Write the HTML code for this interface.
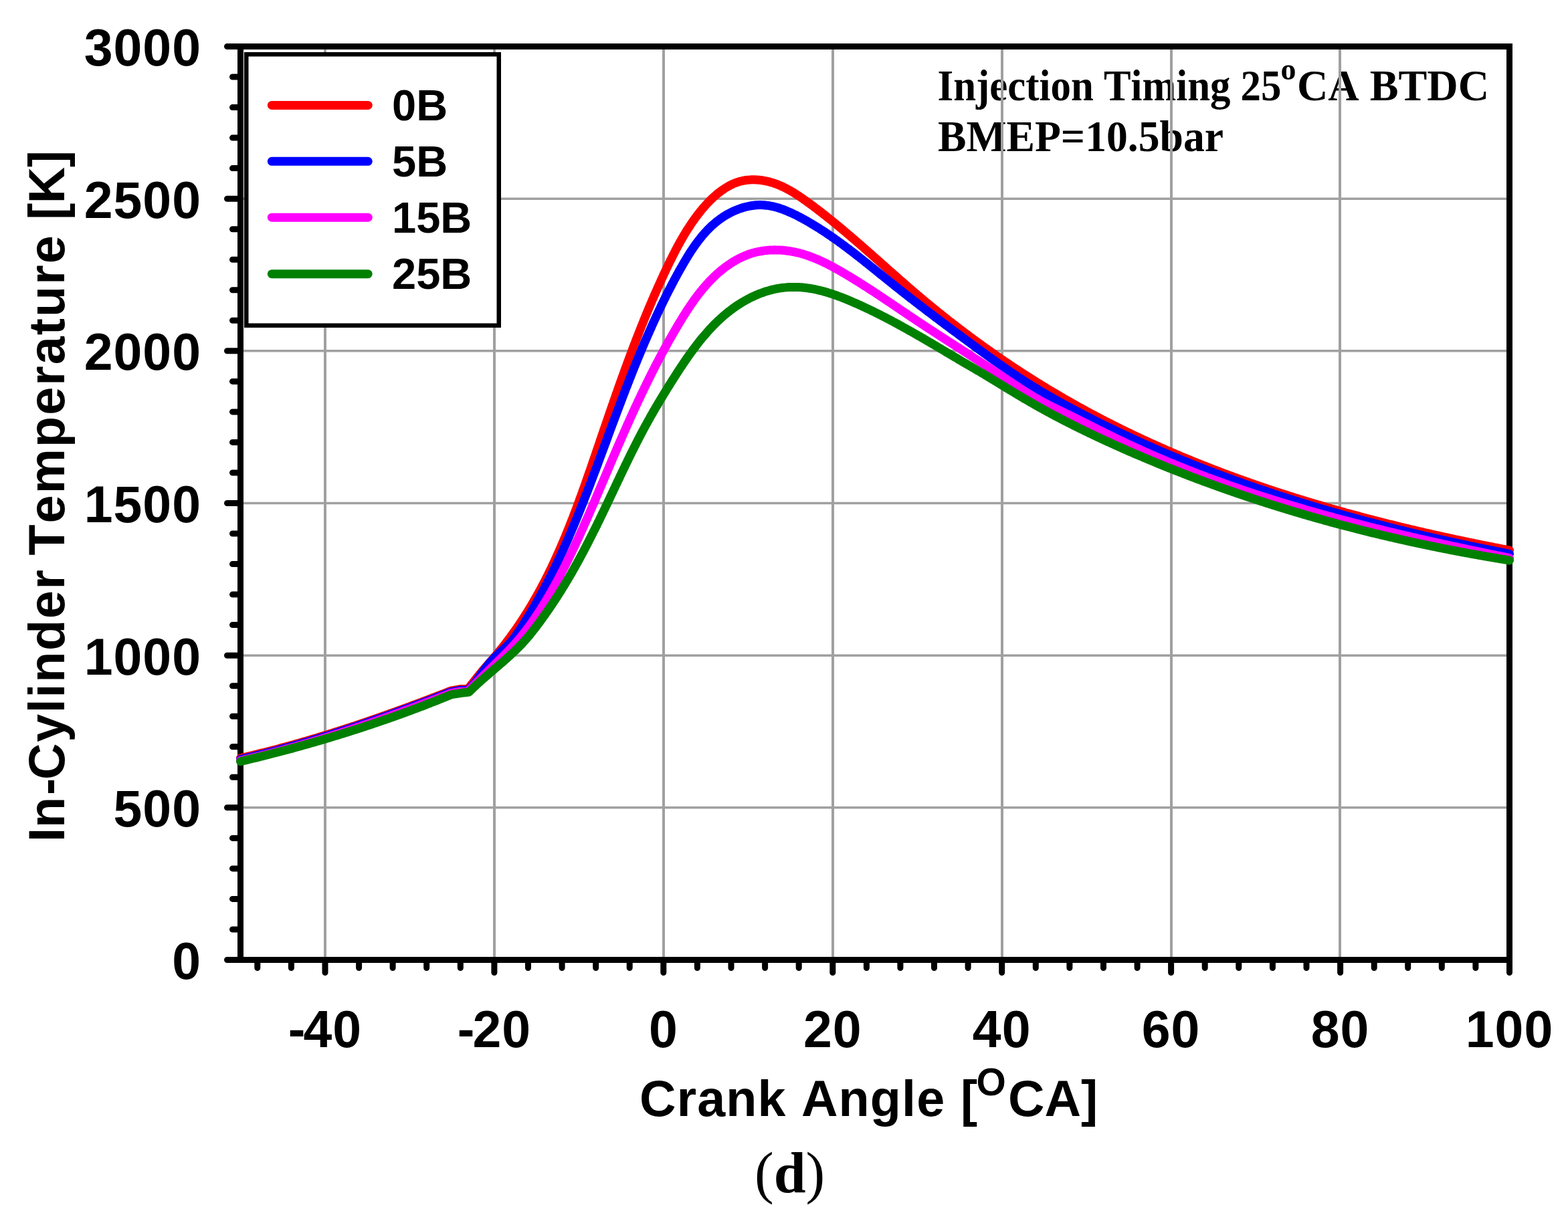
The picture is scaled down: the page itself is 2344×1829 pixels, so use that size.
<!DOCTYPE html>
<html><head><meta charset="utf-8"><title>In-Cylinder Temperature vs Crank Angle</title>
<style>
html,body{margin:0;padding:0;background:#fff;}
body{width:2344px;height:1829px;overflow:hidden;}
svg{display:block;}
text{font-kerning:none;}
.sans{font-family:"Liberation Sans",Arial,sans-serif;font-weight:bold;}
.serif{font-family:"Liberation Serif","Times New Roman",serif;font-weight:bold;}
</style></head><body>
<svg width="2344" height="1829" viewBox="0 0 2344 1829">
<rect width="2344" height="1829" fill="#fff"/>
<g class="serif" font-size="64.5" fill="#000">
<text x="1401.5" y="149.8"><tspan textLength="514" lengthAdjust="spacingAndGlyphs">Injection Timing 25</tspan><tspan x="1914.5" y="118.5" font-size="46">o</tspan><tspan x="1939" y="149.8" textLength="287" lengthAdjust="spacingAndGlyphs">CA BTDC</tspan></text>
<text x="1402" y="226.2" textLength="427" lengthAdjust="spacingAndGlyphs">BMEP=10.5bar</text>
</g>
<path d="M486 69.5 V1435.5 M739 69.5 V1435.5 M992 69.5 V1435.5 M1245 69.5 V1435.5 M1498 69.5 V1435.5 M1751 69.5 V1435.5 M2003 69.5 V1435.5" stroke="#a0a0a0" stroke-width="4" fill="none"/>
<path d="M359.5 1207.8 H2256.5 M359.5 980.2 H2256.5 M359.5 752.5 H2256.5 M359.5 524.8 H2256.5 M359.5 297.2 H2256.5" stroke="#a0a0a0" stroke-width="3.5" fill="none"/>
<rect x="368.25" y="81.25" width="377.5" height="405.5" fill="#fff" stroke="#000" stroke-width="6.5"/>
<g stroke-width="13" stroke-linecap="round" fill="none">
<path d="M406.3 157.4 H550.2" stroke="#ff0000"/>
<path d="M406.3 241.3 H550.2" stroke="#0000ff"/>
<path d="M406.3 325.2 H550.2" stroke="#ff00ff"/>
<path d="M406.3 409.7 H550.2" stroke="#008000"/>
</g>
<g class="sans" font-size="65" fill="#000">
<text x="586" y="180.3">0B</text>
<text x="586" y="264.2">5B</text>
<text x="586" y="348.1">15B</text>
<text x="586" y="432.3">25B</text>
</g>
<rect x="359.5" y="69.5" width="1897.0" height="1366.0" fill="none" stroke="#000" stroke-width="9"/>
<path d="M359.5 1435.5 H339.5 M359.5 1207.8 H339.5 M359.5 980.2 H339.5 M359.5 752.5 H339.5 M359.5 524.8 H339.5 M359.5 297.2 H339.5 M359.5 69.5 H339.5 M486.0 1435.5 V1454.5 M738.9 1435.5 V1454.5 M991.8 1435.5 V1454.5 M1244.8 1435.5 V1454.5 M1497.7 1435.5 V1454.5 M1750.6 1435.5 V1454.5 M2003.6 1435.5 V1454.5 M2256.5 1435.5 V1454.5 M359.5 69.5 H339.5 M359.5 1435.5 H339.5" stroke="#000" stroke-width="9" stroke-linecap="round" fill="none"/>
<path d="M359.5 1390.0 H347.5 M359.5 1344.4 H347.5 M359.5 1298.9 H347.5 M359.5 1253.4 H347.5 M359.5 1162.3 H347.5 M359.5 1116.8 H347.5 M359.5 1071.2 H347.5 M359.5 1025.7 H347.5 M359.5 934.6 H347.5 M359.5 889.1 H347.5 M359.5 843.6 H347.5 M359.5 798.0 H347.5 M359.5 707.0 H347.5 M359.5 661.4 H347.5 M359.5 615.9 H347.5 M359.5 570.4 H347.5 M359.5 479.3 H347.5 M359.5 433.8 H347.5 M359.5 388.2 H347.5 M359.5 342.7 H347.5 M359.5 251.6 H347.5 M359.5 206.1 H347.5 M359.5 160.6 H347.5 M359.5 115.0 H347.5 M384.8 1435.5 V1447.5 M435.4 1435.5 V1447.5 M536.6 1435.5 V1447.5 M587.1 1435.5 V1447.5 M637.7 1435.5 V1447.5 M688.3 1435.5 V1447.5 M789.5 1435.5 V1447.5 M840.1 1435.5 V1447.5 M890.7 1435.5 V1447.5 M941.2 1435.5 V1447.5 M1042.4 1435.5 V1447.5 M1093.0 1435.5 V1447.5 M1143.6 1435.5 V1447.5 M1194.2 1435.5 V1447.5 M1295.4 1435.5 V1447.5 M1345.9 1435.5 V1447.5 M1396.5 1435.5 V1447.5 M1447.1 1435.5 V1447.5 M1548.3 1435.5 V1447.5 M1598.9 1435.5 V1447.5 M1649.5 1435.5 V1447.5 M1700.1 1435.5 V1447.5 M1801.2 1435.5 V1447.5 M1851.8 1435.5 V1447.5 M1902.4 1435.5 V1447.5 M1953.0 1435.5 V1447.5 M2054.2 1435.5 V1447.5 M2104.7 1435.5 V1447.5 M2155.3 1435.5 V1447.5 M2205.9 1435.5 V1447.5" stroke="#000" stroke-width="9" stroke-linecap="round" fill="none"/>
<g stroke-width="13" stroke-linecap="round" stroke-linejoin="round" fill="none">
<path d="M359.5 1133.8 L361.4 1133.4 L363.4 1132.9 L365.3 1132.5 L367.3 1132.0 L369.2 1131.6 L371.1 1131.1 L373.1 1130.7 L375.0 1130.2 L377.0 1129.7 L378.9 1129.3 L380.8 1128.8 L382.8 1128.3 L384.7 1127.9 L386.6 1127.4 L388.6 1126.9 L390.5 1126.4 L392.4 1125.9 L394.4 1125.5 L396.3 1125.0 L398.2 1124.5 L400.2 1124.0 L402.1 1123.5 L404.0 1123.0 L405.9 1122.5 L407.9 1122.0 L409.8 1121.5 L411.7 1121.0 L413.7 1120.5 L415.6 1120.0 L417.5 1119.5 L419.4 1118.9 L421.3 1118.4 L423.3 1117.9 L425.2 1117.4 L427.1 1116.9 L429.0 1116.3 L431.0 1115.8 L432.9 1115.3 L434.8 1114.7 L436.7 1114.2 L438.6 1113.7 L440.5 1113.1 L442.5 1112.6 L444.4 1112.0 L446.3 1111.5 L448.2 1111.0 L450.1 1110.4 L452.0 1109.9 L453.9 1109.3 L455.8 1108.7 L457.8 1108.2 L459.7 1107.6 L461.6 1107.1 L463.5 1106.5 L465.4 1105.9 L467.3 1105.4 L469.2 1104.8 L471.1 1104.2 L473.0 1103.7 L474.9 1103.1 L476.8 1102.5 L478.7 1101.9 L480.6 1101.3 L482.5 1100.8 L484.4 1100.2 L486.4 1099.6 L488.3 1099.0 L490.2 1098.4 L492.1 1097.8 L494.0 1097.2 L495.9 1096.6 L497.8 1096.0 L499.6 1095.4 L501.5 1094.8 L503.4 1094.2 L505.3 1093.6 L507.2 1093.0 L509.1 1092.4 L511.0 1091.8 L512.9 1091.2 L514.8 1090.6 L516.7 1089.9 L518.6 1089.3 L520.5 1088.7 L522.4 1088.1 L524.3 1087.5 L526.2 1086.8 L528.1 1086.2 L529.9 1085.6 L531.8 1085.0 L533.7 1084.3 L535.6 1083.7 L537.5 1083.1 L539.4 1082.4 L541.3 1081.8 L543.2 1081.2 L545.0 1080.5 L546.9 1079.9 L548.8 1079.2 L550.7 1078.6 L552.6 1077.9 L554.5 1077.3 L556.3 1076.6 L558.2 1076.0 L560.1 1075.3 L562.0 1074.7 L563.9 1074.0 L565.7 1073.4 L567.6 1072.7 L569.5 1072.1 L571.4 1071.4 L573.3 1070.7 L575.1 1070.1 L577.0 1069.4 L578.9 1068.7 L580.8 1068.1 L582.6 1067.4 L584.5 1066.7 L586.4 1066.1 L588.3 1065.4 L590.1 1064.7 L592.0 1064.0 L593.9 1063.4 L595.8 1062.7 L597.6 1062.0 L599.5 1061.3 L601.4 1060.6 L603.2 1060.0 L605.1 1059.3 L607.0 1058.6 L608.9 1057.9 L610.7 1057.2 L612.6 1056.5 L614.5 1055.8 L616.3 1055.1 L618.2 1054.4 L620.1 1053.8 L621.9 1053.1 L623.8 1052.4 L625.7 1051.7 L627.5 1051.0 L629.4 1050.3 L631.2 1049.6 L633.1 1048.9 L635.0 1048.2 L636.8 1047.5 L638.7 1046.8 L640.6 1046.1 L642.4 1045.3 L644.3 1044.6 L646.1 1043.9 L648.0 1043.2 L649.9 1042.5 L651.7 1041.8 L653.6 1041.1 L655.4 1040.4 L657.3 1039.7 L659.2 1038.9 L661.0 1038.2 L662.9 1037.5 L664.7 1036.8 L666.6 1036.1 L668.4 1035.4 L670.3 1034.6 L672.1 1033.9 L674.0 1033.2 L688.0 1030.6 L699.5 1030.4 L700.8 1028.9 L702.0 1027.3 L703.3 1025.8 L704.5 1024.2 L705.8 1022.6 L707.0 1021.1 L708.2 1019.5 L709.5 1017.9 L710.7 1016.4 L711.9 1014.8 L713.1 1013.3 L714.4 1011.7 L715.6 1010.2 L716.9 1008.6 L718.1 1007.1 L719.4 1005.5 L720.6 1004.0 L721.9 1002.5 L723.2 1001.0 L724.5 999.5 L725.8 998.0 L727.1 996.5 L728.4 995.0 L729.7 993.5 L731.0 992.0 L732.3 990.5 L733.6 989.0 L734.9 987.5 L736.2 986.0 L737.5 984.5 L738.8 983.0 L740.1 981.5 L741.4 980.0 L742.7 978.5 L744.0 976.9 L745.2 975.4 L746.5 973.8 L747.8 972.3 L749.0 970.7 L750.3 969.2 L751.5 967.6 L752.8 966.0 L754.0 964.5 L755.3 962.9 L756.5 961.3 L757.7 959.7 L758.9 958.1 L760.1 956.5 L761.3 954.9 L762.5 953.3 L763.7 951.7 L764.9 950.0 L766.1 948.4 L767.2 946.8 L768.4 945.2 L769.6 943.5 L770.7 941.9 L771.9 940.2 L773.0 938.6 L774.1 936.9 L775.3 935.3 L776.4 933.6 L777.5 932.0 L778.6 930.3 L779.7 928.6 L780.8 927.0 L781.9 925.3 L783.0 923.6 L784.1 921.9 L785.1 920.3 L786.2 918.6 L787.3 916.9 L788.3 915.2 L789.4 913.5 L790.4 911.8 L791.4 910.1 L792.5 908.4 L793.5 906.7 L794.5 905.0 L795.5 903.3 L796.5 901.5 L797.5 899.8 L798.5 898.1 L799.5 896.4 L800.5 894.6 L801.5 892.9 L802.5 891.2 L803.4 889.4 L804.4 887.7 L805.4 886.0 L806.3 884.2 L807.3 882.5 L808.2 880.7 L809.2 879.0 L810.1 877.2 L811.0 875.4 L811.9 873.7 L812.9 871.9 L813.8 870.2 L814.7 868.4 L815.6 866.6 L816.5 864.8 L817.4 863.1 L818.3 861.3 L819.2 859.5 L820.1 857.7 L820.9 855.9 L821.8 854.2 L822.7 852.4 L823.6 850.6 L824.4 848.8 L825.3 847.0 L826.1 845.2 L827.0 843.4 L827.8 841.6 L828.7 839.8 L829.5 838.0 L830.3 836.2 L831.2 834.3 L832.0 832.5 L832.8 830.7 L833.6 828.9 L834.4 827.1 L835.2 825.3 L836.0 823.4 L836.9 821.6 L837.7 819.8 L838.4 818.0 L839.2 816.1 L840.0 814.3 L840.8 812.5 L841.6 810.6 L842.4 808.8 L843.1 806.9 L843.9 805.1 L844.7 803.3 L845.5 801.4 L846.2 799.6 L847.0 797.7 L847.7 795.9 L848.5 794.0 L849.2 792.2 L850.0 790.3 L850.7 788.5 L851.5 786.6 L852.2 784.7 L852.9 782.9 L853.7 781.0 L854.4 779.2 L855.1 777.3 L855.9 775.4 L856.6 773.6 L857.3 771.7 L858.0 769.8 L858.7 768.0 L859.4 766.1 L860.2 764.2 L860.9 762.3 L861.6 760.5 L862.3 758.6 L863.0 756.7 L863.7 754.8 L864.4 753.0 L865.1 751.1 L865.8 749.2 L866.4 747.3 L867.1 745.4 L867.8 743.6 L868.5 741.7 L869.2 739.8 L869.9 737.9 L870.6 736.0 L871.2 734.1 L871.9 732.2 L872.6 730.4 L873.3 728.5 L873.9 726.6 L874.6 724.7 L875.3 722.8 L875.9 720.9 L876.6 719.0 L877.3 717.1 L877.9 715.2 L878.6 713.3 L879.3 711.4 L879.9 709.5 L880.6 707.7 L881.2 705.8 L881.9 703.9 L882.6 702.0 L883.2 700.1 L883.9 698.2 L884.5 696.3 L885.2 694.4 L885.8 692.5 L886.5 690.6 L887.1 688.7 L887.8 686.8 L888.4 684.9 L889.1 683.0 L889.7 681.1 L890.4 679.2 L891.0 677.3 L891.7 675.4 L892.3 673.5 L893.0 671.6 L893.6 669.7 L894.3 667.8 L894.9 665.9 L895.6 664.0 L896.2 662.1 L896.9 660.2 L897.5 658.3 L898.1 656.4 L898.8 654.5 L899.4 652.6 L900.1 650.7 L900.7 648.8 L901.4 646.9 L902.0 645.0 L902.7 643.1 L903.3 641.2 L904.0 639.3 L904.6 637.4 L905.3 635.5 L905.9 633.6 L906.6 631.7 L907.2 629.9 L907.9 628.0 L908.5 626.1 L909.2 624.2 L909.8 622.3 L910.5 620.4 L911.1 618.5 L911.8 616.6 L912.4 614.7 L913.1 612.8 L913.7 610.9 L914.4 609.0 L915.1 607.1 L915.7 605.3 L916.4 603.4 L917.0 601.5 L917.7 599.6 L918.3 597.7 L919.0 595.8 L919.7 593.9 L920.3 592.0 L921.0 590.1 L921.6 588.3 L922.3 586.4 L923.0 584.5 L923.6 582.6 L924.3 580.7 L925.0 578.8 L925.6 577.0 L926.3 575.1 L927.0 573.2 L927.6 571.3 L928.3 569.4 L929.0 567.5 L929.7 565.7 L930.3 563.8 L931.0 561.9 L931.7 560.0 L932.4 558.1 L933.1 556.3 L933.7 554.4 L934.4 552.5 L935.1 550.6 L935.8 548.8 L936.5 546.9 L937.2 545.0 L937.8 543.1 L938.5 541.3 L939.2 539.4 L939.9 537.5 L940.6 535.7 L941.3 533.8 L942.0 531.9 L942.7 530.1 L943.4 528.2 L944.1 526.3 L944.8 524.5 L945.5 522.6 L946.2 520.7 L946.9 518.9 L947.6 517.0 L948.3 515.1 L949.1 513.3 L949.8 511.4 L950.5 509.5 L951.2 507.7 L951.9 505.8 L952.7 504.0 L953.4 502.1 L954.1 500.3 L954.8 498.4 L955.6 496.5 L956.3 494.7 L957.0 492.8 L957.8 491.0 L958.5 489.1 L959.2 487.3 L960.0 485.4 L960.7 483.6 L961.5 481.7 L962.2 479.9 L962.9 478.0 L963.7 476.2 L964.4 474.4 L965.2 472.5 L966.0 470.7 L966.7 468.8 L967.5 467.0 L968.2 465.2 L969.0 463.3 L969.8 461.5 L970.5 459.6 L971.3 457.8 L972.1 456.0 L972.9 454.1 L973.7 452.3 L974.4 450.5 L975.2 448.6 L976.0 446.8 L976.8 445.0 L977.6 443.2 L978.4 441.3 L979.2 439.5 L980.0 437.7 L980.8 435.9 L981.6 434.0 L982.4 432.2 L983.2 430.4 L984.0 428.6 L984.8 426.8 L985.6 424.9 L986.5 423.1 L987.3 421.3 L988.1 419.5 L988.9 417.7 L989.8 415.9 L990.6 414.1 L991.4 412.3 L992.3 410.4 L993.1 408.6 L994.0 406.8 L994.8 405.0 L995.7 403.2 L996.5 401.4 L997.4 399.6 L998.2 397.8 L999.1 396.0 L1000.0 394.2 L1000.8 392.4 L1001.7 390.6 L1002.6 388.9 L1003.5 387.1 L1004.4 385.3 L1005.3 383.5 L1006.2 381.7 L1007.1 379.9 L1008.0 378.2 L1008.9 376.4 L1009.8 374.6 L1010.7 372.8 L1011.7 371.1 L1012.6 369.3 L1013.5 367.6 L1014.5 365.8 L1015.5 364.1 L1016.4 362.3 L1017.4 360.6 L1018.4 358.8 L1019.4 357.1 L1020.4 355.4 L1021.4 353.7 L1022.4 351.9 L1023.4 350.2 L1024.5 348.5 L1025.5 346.8 L1026.5 345.1 L1027.6 343.4 L1028.7 341.7 L1029.8 340.1 L1030.9 338.4 L1032.0 336.7 L1033.1 335.0 L1034.2 333.4 L1035.3 331.7 L1036.5 330.1 L1037.7 328.5 L1038.8 326.8 L1040.0 325.2 L1041.2 323.6 L1042.4 322.0 L1043.6 320.4 L1044.9 318.8 L1046.1 317.2 L1047.4 315.6 L1048.7 314.0 L1049.9 312.5 L1051.3 310.9 L1052.6 309.4 L1053.9 307.9 L1055.2 306.4 L1056.6 304.9 L1058.0 303.4 L1059.4 302.0 L1060.8 300.5 L1062.2 299.1 L1063.7 297.7 L1065.1 296.3 L1066.6 294.9 L1068.1 293.6 L1069.6 292.3 L1071.1 291.0 L1072.6 289.7 L1074.2 288.5 L1075.8 287.2 L1077.4 286.0 L1079.0 284.9 L1080.6 283.7 L1082.3 282.6 L1083.9 281.5 L1085.6 280.5 L1087.3 279.4 L1089.0 278.5 L1090.8 277.5 L1092.5 276.6 L1094.3 275.7 L1096.1 274.9 L1097.9 274.1 L1099.8 273.4 L1101.6 272.7 L1103.5 272.1 L1105.4 271.5 L1107.3 271.0 L1109.2 270.6 L1111.2 270.2 L1113.1 269.8 L1115.1 269.5 L1117.1 269.3 L1119.1 269.1 L1121.1 268.9 L1123.1 268.8 L1125.1 268.8 L1127.1 268.8 L1129.1 268.8 L1131.1 268.9 L1133.1 269.0 L1135.1 269.2 L1137.1 269.4 L1139.1 269.7 L1141.1 270.0 L1143.1 270.4 L1145.1 270.8 L1147.0 271.2 L1148.9 271.6 L1150.9 272.1 L1152.8 272.7 L1154.7 273.2 L1156.6 273.9 L1158.4 274.5 L1160.3 275.2 L1162.1 275.9 L1164.0 276.6 L1165.8 277.4 L1167.6 278.2 L1169.4 279.0 L1171.2 279.8 L1173.0 280.7 L1174.7 281.6 L1176.5 282.5 L1178.2 283.4 L1180.0 284.4 L1181.7 285.4 L1183.4 286.4 L1185.2 287.4 L1186.9 288.4 L1188.6 289.5 L1190.3 290.6 L1192.0 291.7 L1193.6 292.8 L1195.3 293.9 L1197.0 295.0 L1198.6 296.1 L1200.3 297.3 L1201.9 298.5 L1203.6 299.6 L1205.2 300.8 L1206.9 302.0 L1208.5 303.2 L1210.1 304.3 L1211.7 305.5 L1213.4 306.7 L1215.0 307.9 L1216.6 309.1 L1218.2 310.4 L1219.8 311.6 L1221.4 312.8 L1223.0 314.0 L1224.6 315.2 L1226.2 316.4 L1227.8 317.7 L1229.4 318.9 L1230.9 320.1 L1232.5 321.4 L1234.1 322.6 L1235.7 323.9 L1237.2 325.1 L1238.8 326.4 L1240.4 327.6 L1241.9 328.9 L1243.5 330.1 L1245.1 331.4 L1246.6 332.7 L1248.2 333.9 L1249.7 335.2 L1251.3 336.5 L1252.8 337.7 L1254.3 339.0 L1255.9 340.3 L1257.4 341.6 L1259.0 342.9 L1260.5 344.1 L1262.0 345.4 L1263.5 346.7 L1265.1 348.0 L1266.6 349.3 L1268.1 350.6 L1269.6 351.9 L1271.2 353.2 L1272.7 354.5 L1274.2 355.8 L1275.7 357.1 L1277.2 358.4 L1278.7 359.7 L1280.2 361.0 L1281.8 362.3 L1283.3 363.6 L1284.8 364.9 L1286.3 366.2 L1287.8 367.6 L1289.3 368.9 L1290.8 370.2 L1292.3 371.5 L1293.8 372.8 L1295.3 374.1 L1296.8 375.5 L1298.3 376.8 L1299.8 378.1 L1301.3 379.4 L1302.8 380.7 L1304.3 382.1 L1305.8 383.4 L1307.2 384.7 L1308.7 386.0 L1310.2 387.4 L1311.7 388.7 L1313.2 390.0 L1314.7 391.3 L1316.2 392.7 L1317.7 394.0 L1319.2 395.3 L1320.7 396.6 L1322.2 398.0 L1323.7 399.3 L1325.1 400.6 L1326.6 401.9 L1328.1 403.3 L1329.6 404.6 L1331.1 405.9 L1332.6 407.2 L1334.1 408.5 L1335.6 409.9 L1337.1 411.2 L1338.6 412.5 L1340.1 413.8 L1341.6 415.2 L1343.1 416.5 L1344.6 417.8 L1346.1 419.1 L1347.6 420.4 L1349.1 421.7 L1350.6 423.0 L1352.1 424.4 L1353.6 425.7 L1355.1 427.0 L1356.6 428.3 L1358.1 429.6 L1359.6 430.9 L1361.1 432.2 L1362.6 433.5 L1364.1 434.8 L1365.6 436.1 L1367.2 437.4 L1368.7 438.7 L1370.2 440.0 L1371.7 441.3 L1373.2 442.6 L1374.8 443.9 L1376.3 445.2 L1377.8 446.4 L1379.3 447.7 L1380.9 449.0 L1382.4 450.3 L1383.9 451.6 L1385.5 452.8 L1387.0 454.1 L1388.6 455.4 L1390.1 456.7 L1391.6 457.9 L1393.2 459.2 L1394.7 460.4 L1396.3 461.7 L1397.8 463.0 L1399.4 464.2 L1400.9 465.5 L1402.5 466.7 L1404.1 468.0 L1405.6 469.2 L1407.2 470.5 L1408.7 471.7 L1410.3 473.0 L1411.9 474.2 L1413.4 475.5 L1415.0 476.7 L1416.6 477.9 L1418.1 479.2 L1419.7 480.4 L1421.3 481.6 L1422.9 482.9 L1424.4 484.1 L1426.0 485.3 L1427.6 486.5 L1429.2 487.8 L1430.8 489.0 L1432.4 490.2 L1433.9 491.4 L1435.5 492.6 L1437.1 493.8 L1438.7 495.0 L1440.3 496.2 L1441.9 497.4 L1443.5 498.6 L1445.1 499.8 L1446.7 501.0 L1448.3 502.2 L1449.9 503.4 L1451.5 504.6 L1453.1 505.8 L1454.7 507.0 L1456.4 508.2 L1458.0 509.4 L1459.6 510.5 L1461.2 511.7 L1462.8 512.9 L1464.4 514.1 L1466.0 515.2 L1467.7 516.4 L1469.3 517.6 L1470.9 518.8 L1472.5 519.9 L1474.2 521.1 L1475.8 522.2 L1477.4 523.4 L1479.1 524.5 L1480.7 525.7 L1482.3 526.9 L1484.0 528.0 L1485.6 529.1 L1487.3 530.3 L1488.9 531.4 L1490.5 532.6 L1492.2 533.7 L1493.8 534.8 L1495.5 536.0 L1497.1 537.1 L1498.8 538.2 L1500.4 539.4 L1502.1 540.5 L1503.7 541.6 L1505.4 542.7 L1507.1 543.8 L1508.7 545.0 L1510.4 546.1 L1512.0 547.2 L1513.7 548.3 L1515.4 549.4 L1517.0 550.5 L1518.7 551.6 L1520.4 552.7 L1522.0 553.8 L1523.7 554.9 L1525.4 556.0 L1527.1 557.1 L1528.7 558.2 L1530.4 559.3 L1532.1 560.3 L1533.8 561.4 L1535.5 562.5 L1537.2 563.6 L1538.8 564.6 L1540.5 565.7 L1542.2 566.8 L1543.9 567.9 L1545.6 568.9 L1547.3 570.0 L1549.0 571.0 L1550.7 572.1 L1552.4 573.2 L1554.1 574.2 L1555.8 575.3 L1557.5 576.3 L1559.2 577.4 L1560.9 578.4 L1562.6 579.4 L1564.3 580.5 L1566.0 581.5 L1567.7 582.5 L1569.4 583.6 L1571.2 584.6 L1572.9 585.6 L1574.6 586.7 L1576.3 587.7 L1578.0 588.7 L1579.7 589.7 L1581.5 590.7 L1583.2 591.7 L1584.9 592.7 L1586.6 593.8 L1588.4 594.8 L1590.1 595.8 L1591.8 596.8 L1593.5 597.8 L1595.3 598.8 L1597.0 599.7 L1598.7 600.7 L1600.5 601.7 L1602.2 602.7 L1604.0 603.7 L1605.7 604.7 L1607.4 605.6 L1609.2 606.6 L1610.9 607.6 L1612.7 608.6 L1614.4 609.5 L1616.2 610.5 L1617.9 611.5 L1619.7 612.4 L1621.4 613.4 L1623.2 614.3 L1624.9 615.3 L1626.7 616.2 L1628.4 617.2 L1630.2 618.1 L1632.0 619.1 L1633.7 620.0 L1635.5 620.9 L1637.2 621.9 L1639.0 622.8 L1640.8 623.7 L1642.5 624.7 L1644.3 625.6 L1646.1 626.5 L1647.8 627.4 L1649.6 628.4 L1651.4 629.3 L1653.2 630.2 L1654.9 631.1 L1656.7 632.0 L1658.5 632.9 L1660.3 633.8 L1662.0 634.7 L1663.8 635.6 L1665.6 636.5 L1667.4 637.4 L1669.2 638.3 L1671.0 639.2 L1672.8 640.1 L1674.5 641.0 L1676.3 641.9 L1678.1 642.7 L1679.9 643.6 L1681.7 644.5 L1683.5 645.4 L1685.3 646.2 L1687.1 647.1 L1688.9 648.0 L1690.7 648.8 L1692.5 649.7 L1694.3 650.6 L1696.1 651.4 L1697.9 652.3 L1699.7 653.1 L1701.5 654.0 L1703.3 654.8 L1705.1 655.7 L1706.9 656.5 L1708.7 657.4 L1710.5 658.2 L1712.4 659.0 L1714.2 659.9 L1716.0 660.7 L1717.8 661.5 L1719.6 662.4 L1721.4 663.2 L1723.2 664.0 L1725.1 664.8 L1726.9 665.7 L1728.7 666.5 L1730.5 667.3 L1732.4 668.1 L1734.2 668.9 L1736.0 669.7 L1737.8 670.5 L1739.7 671.3 L1741.5 672.1 L1743.3 672.9 L1745.1 673.7 L1747.0 674.5 L1748.8 675.3 L1750.6 676.1 L1752.5 676.9 L1754.3 677.7 L1756.1 678.5 L1758.0 679.3 L1759.8 680.0 L1761.7 680.8 L1763.5 681.6 L1765.3 682.4 L1767.2 683.2 L1769.0 683.9 L1770.9 684.7 L1772.7 685.5 L1774.6 686.2 L1776.4 687.0 L1778.3 687.7 L1780.1 688.5 L1781.9 689.3 L1783.8 690.0 L1785.7 690.8 L1787.5 691.5 L1789.4 692.3 L1791.2 693.0 L1793.1 693.8 L1794.9 694.5 L1796.8 695.2 L1798.6 696.0 L1800.5 696.7 L1802.4 697.4 L1804.2 698.2 L1806.1 698.9 L1807.9 699.6 L1809.8 700.4 L1811.7 701.1 L1813.5 701.8 L1815.4 702.5 L1817.3 703.2 L1819.1 703.9 L1821.0 704.7 L1822.9 705.4 L1824.7 706.1 L1826.6 706.8 L1828.5 707.5 L1830.3 708.2 L1832.2 708.9 L1834.1 709.6 L1836.0 710.3 L1837.8 711.0 L1839.7 711.7 L1841.6 712.4 L1843.5 713.1 L1845.3 713.8 L1847.2 714.4 L1849.1 715.1 L1851.0 715.8 L1852.9 716.5 L1854.7 717.2 L1856.6 717.8 L1858.5 718.5 L1860.4 719.2 L1862.3 719.9 L1864.2 720.5 L1866.1 721.2 L1867.9 721.9 L1869.8 722.5 L1871.7 723.2 L1873.6 723.8 L1875.5 724.5 L1877.4 725.2 L1879.3 725.8 L1881.2 726.5 L1883.1 727.1 L1885.0 727.8 L1886.9 728.4 L1888.7 729.0 L1890.6 729.7 L1892.5 730.3 L1894.4 731.0 L1896.3 731.6 L1898.2 732.2 L1900.1 732.9 L1902.0 733.5 L1903.9 734.1 L1905.8 734.8 L1907.7 735.4 L1909.6 736.0 L1911.5 736.6 L1913.4 737.3 L1915.3 737.9 L1917.3 738.5 L1919.2 739.1 L1921.1 739.7 L1923.0 740.3 L1924.9 740.9 L1926.8 741.6 L1928.7 742.2 L1930.6 742.8 L1932.5 743.4 L1934.4 744.0 L1936.3 744.6 L1938.2 745.2 L1940.2 745.8 L1942.1 746.4 L1944.0 747.0 L1945.9 747.5 L1947.8 748.1 L1949.7 748.7 L1951.6 749.3 L1953.6 749.9 L1955.5 750.5 L1957.4 751.1 L1959.3 751.6 L1961.2 752.2 L1963.1 752.8 L1965.1 753.4 L1967.0 753.9 L1968.9 754.5 L1970.8 755.1 L1972.7 755.6 L1974.7 756.2 L1976.6 756.8 L1978.5 757.3 L1980.4 757.9 L1982.4 758.5 L1984.3 759.0 L1986.2 759.6 L1988.1 760.1 L1990.1 760.7 L1992.0 761.2 L1993.9 761.8 L1995.8 762.3 L1997.8 762.9 L1999.7 763.4 L2001.6 764.0 L2003.5 764.5 L2005.5 765.0 L2007.4 765.6 L2009.3 766.1 L2011.3 766.7 L2013.2 767.2 L2015.1 767.7 L2017.1 768.3 L2019.0 768.8 L2020.9 769.3 L2022.9 769.8 L2024.8 770.4 L2026.7 770.9 L2028.7 771.4 L2030.6 771.9 L2032.5 772.4 L2034.5 773.0 L2036.4 773.5 L2038.3 774.0 L2040.3 774.5 L2042.2 775.0 L2044.1 775.5 L2046.1 776.0 L2048.0 776.5 L2050.0 777.0 L2051.9 777.5 L2053.8 778.1 L2055.8 778.6 L2057.7 779.1 L2059.7 779.5 L2061.6 780.0 L2063.5 780.5 L2065.5 781.0 L2067.4 781.5 L2069.4 782.0 L2071.3 782.5 L2073.2 783.0 L2075.2 783.5 L2077.1 784.0 L2079.1 784.4 L2081.0 784.9 L2083.0 785.4 L2084.9 785.9 L2086.8 786.4 L2088.8 786.8 L2090.7 787.3 L2092.7 787.8 L2094.6 788.3 L2096.6 788.7 L2098.5 789.2 L2100.5 789.7 L2102.4 790.1 L2104.3 790.6 L2106.3 791.1 L2108.2 791.5 L2110.2 792.0 L2112.1 792.4 L2114.1 792.9 L2116.0 793.4 L2118.0 793.8 L2119.9 794.3 L2121.9 794.7 L2123.8 795.2 L2125.8 795.6 L2127.7 796.1 L2129.7 796.5 L2131.6 797.0 L2133.6 797.4 L2135.5 797.9 L2137.5 798.3 L2139.4 798.7 L2141.4 799.2 L2143.3 799.6 L2145.3 800.1 L2147.2 800.5 L2149.2 800.9 L2151.1 801.4 L2153.1 801.8 L2155.0 802.2 L2157.0 802.7 L2158.9 803.1 L2160.9 803.5 L2162.8 803.9 L2164.8 804.4 L2166.7 804.8 L2168.7 805.2 L2170.6 805.6 L2172.6 806.0 L2174.5 806.5 L2176.5 806.9 L2178.4 807.3 L2180.4 807.7 L2182.3 808.1 L2184.3 808.5 L2186.2 808.9 L2188.2 809.4 L2190.1 809.8 L2192.1 810.2 L2194.0 810.6 L2196.0 811.0 L2197.9 811.4 L2199.9 811.8 L2201.8 812.2 L2203.8 812.6 L2205.7 813.0 L2207.7 813.4 L2209.7 813.8 L2211.6 814.2 L2213.6 814.6 L2215.5 815.0 L2217.5 815.4 L2219.4 815.8 L2221.4 816.2 L2223.3 816.5 L2225.3 816.9 L2227.2 817.3 L2229.2 817.7 L2231.1 818.1 L2233.1 818.5 L2235.0 818.9 L2237.0 819.2 L2238.9 819.6 L2240.9 820.0 L2242.8 820.4 L2244.8 820.8 L2246.7 821.1 L2248.7 821.5 L2250.6 821.9 L2252.6 822.3 L2254.5 822.6 L2256.5 823.0" stroke="#ff0000"/>
<path d="M359.5 1135.6 L361.4 1135.2 L363.4 1134.7 L365.3 1134.3 L367.3 1133.8 L369.2 1133.3 L371.1 1132.9 L373.1 1132.4 L375.0 1132.0 L377.0 1131.5 L378.9 1131.0 L380.8 1130.6 L382.8 1130.1 L384.7 1129.6 L386.6 1129.1 L388.6 1128.6 L390.5 1128.2 L392.4 1127.7 L394.4 1127.2 L396.3 1126.7 L398.2 1126.2 L400.1 1125.7 L402.1 1125.2 L404.0 1124.7 L405.9 1124.2 L407.9 1123.7 L409.8 1123.2 L411.7 1122.7 L413.6 1122.2 L415.6 1121.7 L417.5 1121.1 L419.4 1120.6 L421.3 1120.1 L423.2 1119.6 L425.2 1119.0 L427.1 1118.5 L429.0 1118.0 L430.9 1117.5 L432.8 1116.9 L434.8 1116.4 L436.7 1115.9 L438.6 1115.3 L440.5 1114.8 L442.4 1114.2 L444.3 1113.7 L446.2 1113.1 L448.2 1112.6 L450.1 1112.0 L452.0 1111.5 L453.9 1110.9 L455.8 1110.4 L457.7 1109.8 L459.6 1109.2 L461.5 1108.7 L463.4 1108.1 L465.4 1107.5 L467.3 1107.0 L469.2 1106.4 L471.1 1105.8 L473.0 1105.2 L474.9 1104.7 L476.8 1104.1 L478.7 1103.5 L480.6 1102.9 L482.5 1102.3 L484.4 1101.7 L486.3 1101.1 L488.2 1100.5 L490.1 1100.0 L492.0 1099.4 L493.9 1098.8 L495.8 1098.2 L497.7 1097.6 L499.6 1097.0 L501.5 1096.4 L503.4 1095.7 L505.3 1095.1 L507.2 1094.5 L509.1 1093.9 L511.0 1093.3 L512.9 1092.7 L514.8 1092.1 L516.6 1091.5 L518.5 1090.8 L520.4 1090.2 L522.3 1089.6 L524.2 1089.0 L526.1 1088.3 L528.0 1087.7 L529.9 1087.1 L531.8 1086.5 L533.7 1085.8 L535.5 1085.2 L537.4 1084.5 L539.3 1083.9 L541.2 1083.3 L543.1 1082.6 L545.0 1082.0 L546.9 1081.3 L548.7 1080.7 L550.6 1080.1 L552.5 1079.4 L554.4 1078.8 L556.3 1078.1 L558.2 1077.5 L560.0 1076.8 L561.9 1076.2 L563.8 1075.5 L565.7 1074.8 L567.6 1074.2 L569.4 1073.5 L571.3 1072.9 L573.2 1072.2 L575.1 1071.5 L577.0 1070.9 L578.8 1070.2 L580.7 1069.5 L582.6 1068.9 L584.5 1068.2 L586.3 1067.5 L588.2 1066.9 L590.1 1066.2 L592.0 1065.5 L593.8 1064.8 L595.7 1064.2 L597.6 1063.5 L599.4 1062.8 L601.3 1062.1 L603.2 1061.4 L605.1 1060.7 L606.9 1060.1 L608.8 1059.4 L610.7 1058.7 L612.5 1058.0 L614.4 1057.3 L616.3 1056.6 L618.1 1055.9 L620.0 1055.2 L621.9 1054.6 L623.7 1053.9 L625.6 1053.2 L627.5 1052.5 L629.3 1051.8 L631.2 1051.1 L633.1 1050.4 L634.9 1049.7 L636.8 1049.0 L638.7 1048.3 L640.5 1047.6 L642.4 1046.9 L644.2 1046.2 L646.1 1045.5 L648.0 1044.8 L649.8 1044.1 L651.7 1043.3 L653.6 1042.6 L655.4 1041.9 L657.3 1041.2 L659.1 1040.5 L661.0 1039.8 L662.9 1039.1 L664.7 1038.4 L666.6 1037.7 L668.4 1036.9 L670.3 1036.2 L672.1 1035.5 L674.0 1034.8 L688.0 1032.2 L699.5 1032.0 L701.0 1030.7 L702.5 1029.4 L704.0 1028.0 L705.3 1026.5 L706.7 1025.1 L708.0 1023.6 L709.2 1022.0 L710.5 1020.5 L711.7 1018.9 L712.8 1017.3 L714.0 1015.6 L715.2 1014.0 L716.3 1012.4 L717.4 1010.7 L718.6 1009.1 L719.7 1007.4 L720.9 1005.8 L722.1 1004.2 L723.3 1002.5 L724.5 1000.9 L725.7 999.4 L726.9 997.8 L728.2 996.2 L729.4 994.7 L730.7 993.1 L732.0 991.6 L733.3 990.1 L734.6 988.6 L736.0 987.1 L737.3 985.7 L738.7 984.2 L740.1 982.8 L741.5 981.4 L742.9 980.0 L744.4 978.6 L745.8 977.2 L747.3 975.9 L748.8 974.5 L750.2 973.2 L751.7 971.8 L753.2 970.5 L754.6 969.1 L756.1 967.8 L757.5 966.4 L758.9 965.0 L760.3 963.6 L761.7 962.2 L763.1 960.7 L764.4 959.2 L765.7 957.7 L766.9 956.2 L768.2 954.6 L769.4 953.0 L770.6 951.4 L771.7 949.8 L772.9 948.1 L774.0 946.5 L775.2 944.8 L776.3 943.1 L777.4 941.4 L778.5 939.8 L779.6 938.1 L780.7 936.4 L781.8 934.7 L782.8 933.0 L783.9 931.3 L785.0 929.6 L786.1 927.9 L787.1 926.2 L788.2 924.5 L789.2 922.8 L790.3 921.1 L791.3 919.4 L792.4 917.7 L793.4 916.0 L794.4 914.3 L795.4 912.6 L796.5 910.8 L797.5 909.1 L798.5 907.4 L799.5 905.7 L800.5 903.9 L801.5 902.2 L802.5 900.5 L803.4 898.7 L804.4 897.0 L805.4 895.2 L806.4 893.5 L807.3 891.8 L808.3 890.0 L809.3 888.3 L810.2 886.5 L811.2 884.7 L812.1 883.0 L813.1 881.2 L814.0 879.5 L814.9 877.7 L815.8 875.9 L816.8 874.2 L817.7 872.4 L818.6 870.6 L819.5 868.9 L820.4 867.1 L821.3 865.3 L822.2 863.5 L823.1 861.8 L824.0 860.0 L824.9 858.2 L825.8 856.4 L826.7 854.6 L827.6 852.8 L828.4 851.0 L829.3 849.2 L830.2 847.5 L831.0 845.7 L831.9 843.9 L832.8 842.1 L833.6 840.3 L834.5 838.5 L835.3 836.6 L836.2 834.8 L837.0 833.0 L837.8 831.2 L838.7 829.4 L839.5 827.6 L840.3 825.8 L841.2 824.0 L842.0 822.2 L842.8 820.3 L843.6 818.5 L844.4 816.7 L845.2 814.9 L846.1 813.1 L846.9 811.2 L847.7 809.4 L848.5 807.6 L849.3 805.7 L850.1 803.9 L850.8 802.1 L851.6 800.2 L852.4 798.4 L853.2 796.6 L854.0 794.7 L854.8 792.9 L855.5 791.1 L856.3 789.2 L857.1 787.4 L857.9 785.5 L858.6 783.7 L859.4 781.8 L860.2 780.0 L860.9 778.2 L861.7 776.3 L862.4 774.5 L863.2 772.6 L863.9 770.8 L864.7 768.9 L865.4 767.0 L866.2 765.2 L866.9 763.3 L867.7 761.5 L868.4 759.6 L869.1 757.8 L869.9 755.9 L870.6 754.0 L871.4 752.2 L872.1 750.3 L872.8 748.5 L873.5 746.6 L874.3 744.7 L875.0 742.9 L875.7 741.0 L876.4 739.1 L877.2 737.3 L877.9 735.4 L878.6 733.5 L879.3 731.7 L880.0 729.8 L880.8 727.9 L881.5 726.1 L882.2 724.2 L882.9 722.3 L883.6 720.5 L884.3 718.6 L885.0 716.7 L885.7 714.8 L886.4 713.0 L887.1 711.1 L887.8 709.2 L888.5 707.3 L889.2 705.5 L890.0 703.6 L890.7 701.7 L891.4 699.8 L892.1 698.0 L892.8 696.1 L893.5 694.2 L894.2 692.3 L894.8 690.4 L895.5 688.6 L896.2 686.7 L896.9 684.8 L897.6 682.9 L898.3 681.1 L899.0 679.2 L899.7 677.3 L900.4 675.4 L901.1 673.5 L901.8 671.7 L902.5 669.8 L903.2 667.9 L903.9 666.0 L904.6 664.1 L905.3 662.3 L906.0 660.4 L906.7 658.5 L907.4 656.6 L908.1 654.7 L908.7 652.9 L909.4 651.0 L910.1 649.1 L910.8 647.2 L911.5 645.3 L912.2 643.5 L912.9 641.6 L913.6 639.7 L914.3 637.8 L915.0 636.0 L915.7 634.1 L916.4 632.2 L917.1 630.3 L917.8 628.4 L918.5 626.6 L919.2 624.7 L919.9 622.8 L920.6 620.9 L921.3 619.1 L922.0 617.2 L922.7 615.3 L923.4 613.4 L924.1 611.6 L924.8 609.7 L925.5 607.8 L926.2 605.9 L927.0 604.1 L927.7 602.2 L928.4 600.3 L929.1 598.5 L929.8 596.6 L930.5 594.7 L931.2 592.9 L931.9 591.0 L932.7 589.1 L933.4 587.2 L934.1 585.4 L934.8 583.5 L935.5 581.6 L936.2 579.8 L937.0 577.9 L937.7 576.1 L938.4 574.2 L939.1 572.3 L939.9 570.5 L940.6 568.6 L941.3 566.7 L942.1 564.9 L942.8 563.0 L943.5 561.2 L944.3 559.3 L945.0 557.5 L945.7 555.6 L946.5 553.7 L947.2 551.9 L948.0 550.0 L948.7 548.2 L949.5 546.3 L950.2 544.5 L951.0 542.6 L951.7 540.8 L952.5 538.9 L953.2 537.1 L954.0 535.2 L954.7 533.4 L955.5 531.6 L956.3 529.7 L957.0 527.9 L957.8 526.0 L958.6 524.2 L959.3 522.4 L960.1 520.5 L960.9 518.7 L961.7 516.8 L962.4 515.0 L963.2 513.2 L964.0 511.3 L964.8 509.5 L965.6 507.7 L966.4 505.9 L967.2 504.0 L968.0 502.2 L968.8 500.4 L969.6 498.6 L970.4 496.7 L971.2 494.9 L972.0 493.1 L972.8 491.3 L973.6 489.5 L974.4 487.6 L975.2 485.8 L976.0 484.0 L976.9 482.2 L977.7 480.4 L978.5 478.6 L979.3 476.8 L980.2 475.0 L981.0 473.2 L981.8 471.4 L982.7 469.6 L983.5 467.7 L984.4 466.0 L985.2 464.2 L986.1 462.4 L986.9 460.6 L987.8 458.8 L988.6 457.0 L989.5 455.2 L990.4 453.4 L991.2 451.6 L992.1 449.8 L993.0 448.0 L993.9 446.3 L994.7 444.5 L995.6 442.7 L996.5 440.9 L997.4 439.1 L998.3 437.4 L999.2 435.6 L1000.1 433.8 L1001.0 432.1 L1001.9 430.3 L1002.9 428.5 L1003.8 426.8 L1004.7 425.0 L1005.6 423.2 L1006.6 421.5 L1007.5 419.7 L1008.4 417.9 L1009.4 416.2 L1010.3 414.4 L1011.3 412.7 L1012.2 410.9 L1013.2 409.2 L1014.2 407.4 L1015.1 405.6 L1016.1 403.9 L1017.1 402.1 L1018.1 400.4 L1019.1 398.7 L1020.1 396.9 L1021.1 395.2 L1022.1 393.4 L1023.1 391.7 L1024.2 389.9 L1025.2 388.2 L1026.2 386.5 L1027.3 384.8 L1028.3 383.0 L1029.4 381.3 L1030.5 379.6 L1031.5 377.9 L1032.6 376.2 L1033.7 374.5 L1034.9 372.9 L1036.0 371.2 L1037.1 369.5 L1038.3 367.9 L1039.4 366.3 L1040.6 364.6 L1041.8 363.0 L1043.0 361.4 L1044.2 359.8 L1045.4 358.2 L1046.6 356.7 L1047.9 355.1 L1049.1 353.6 L1050.4 352.1 L1051.7 350.5 L1053.0 349.1 L1054.3 347.6 L1055.7 346.1 L1057.0 344.7 L1058.4 343.2 L1059.8 341.8 L1061.2 340.4 L1062.6 339.1 L1064.0 337.7 L1065.5 336.4 L1067.0 335.1 L1068.5 333.8 L1070.0 332.5 L1071.5 331.3 L1073.1 330.1 L1074.7 328.9 L1076.3 327.7 L1077.9 326.5 L1079.6 325.4 L1081.2 324.3 L1082.9 323.2 L1084.6 322.2 L1086.4 321.1 L1088.1 320.1 L1089.9 319.2 L1091.7 318.2 L1093.5 317.3 L1095.3 316.4 L1097.2 315.6 L1099.1 314.8 L1101.0 314.0 L1102.9 313.2 L1104.8 312.5 L1106.7 311.8 L1108.6 311.2 L1110.6 310.6 L1112.5 310.0 L1114.5 309.5 L1116.5 309.0 L1118.4 308.6 L1120.4 308.2 L1122.4 307.8 L1124.4 307.5 L1126.4 307.2 L1128.3 307.0 L1130.3 306.8 L1132.3 306.7 L1134.3 306.6 L1136.3 306.6 L1138.2 306.6 L1140.2 306.7 L1142.1 306.8 L1144.1 307.0 L1146.0 307.2 L1148.0 307.4 L1149.9 307.7 L1151.9 308.1 L1153.8 308.4 L1155.7 308.8 L1157.6 309.3 L1159.5 309.8 L1161.4 310.3 L1163.3 310.9 L1165.2 311.4 L1167.1 312.1 L1169.0 312.7 L1170.9 313.4 L1172.7 314.1 L1174.6 314.8 L1176.4 315.6 L1178.3 316.4 L1180.1 317.2 L1182.0 318.0 L1183.8 318.8 L1185.6 319.7 L1187.5 320.6 L1189.3 321.4 L1191.1 322.4 L1192.9 323.3 L1194.7 324.2 L1196.5 325.2 L1198.2 326.1 L1200.0 327.1 L1201.8 328.1 L1203.6 329.0 L1205.3 330.0 L1207.1 331.0 L1208.8 332.0 L1210.5 333.1 L1212.3 334.1 L1214.0 335.1 L1215.7 336.1 L1217.4 337.2 L1219.2 338.2 L1220.9 339.3 L1222.6 340.3 L1224.3 341.4 L1225.9 342.5 L1227.6 343.6 L1229.3 344.6 L1231.0 345.7 L1232.7 346.8 L1234.3 347.9 L1236.0 349.0 L1237.6 350.2 L1239.3 351.3 L1240.9 352.4 L1242.6 353.5 L1244.2 354.7 L1245.9 355.8 L1247.5 357.0 L1249.1 358.1 L1250.8 359.3 L1252.4 360.4 L1254.0 361.6 L1255.6 362.8 L1257.2 363.9 L1258.8 365.1 L1260.4 366.3 L1262.0 367.5 L1263.6 368.7 L1265.2 369.9 L1266.8 371.1 L1268.4 372.3 L1270.0 373.5 L1271.6 374.7 L1273.2 375.9 L1274.7 377.1 L1276.3 378.3 L1277.9 379.5 L1279.5 380.7 L1281.0 382.0 L1282.6 383.2 L1284.2 384.4 L1285.7 385.7 L1287.3 386.9 L1288.9 388.1 L1290.4 389.4 L1292.0 390.6 L1293.5 391.8 L1295.1 393.1 L1296.7 394.3 L1298.2 395.6 L1299.8 396.8 L1301.3 398.1 L1302.9 399.3 L1304.4 400.6 L1306.0 401.8 L1307.5 403.1 L1309.1 404.3 L1310.6 405.6 L1312.2 406.8 L1313.7 408.1 L1315.3 409.4 L1316.8 410.6 L1318.4 411.9 L1320.0 413.1 L1321.5 414.4 L1323.1 415.6 L1324.6 416.9 L1326.2 418.1 L1327.7 419.4 L1329.3 420.6 L1330.8 421.9 L1332.4 423.1 L1333.9 424.4 L1335.5 425.6 L1337.1 426.9 L1338.6 428.1 L1340.2 429.4 L1341.8 430.6 L1343.3 431.9 L1344.9 433.1 L1346.5 434.3 L1348.0 435.6 L1349.6 436.8 L1351.2 438.1 L1352.8 439.3 L1354.3 440.5 L1355.9 441.8 L1357.5 443.0 L1359.1 444.2 L1360.6 445.5 L1362.2 446.7 L1363.8 447.9 L1365.4 449.1 L1367.0 450.4 L1368.6 451.6 L1370.1 452.8 L1371.7 454.0 L1373.3 455.3 L1374.9 456.5 L1376.5 457.7 L1378.1 458.9 L1379.7 460.1 L1381.3 461.3 L1382.8 462.6 L1384.4 463.8 L1386.0 465.0 L1387.6 466.2 L1389.2 467.4 L1390.8 468.6 L1392.4 469.8 L1394.0 471.0 L1395.6 472.3 L1397.2 473.5 L1398.8 474.7 L1400.4 475.9 L1402.0 477.1 L1403.6 478.3 L1405.2 479.5 L1406.8 480.7 L1408.4 481.9 L1410.0 483.1 L1411.6 484.3 L1413.2 485.5 L1414.8 486.7 L1416.4 487.9 L1418.0 489.1 L1419.6 490.3 L1421.2 491.5 L1422.8 492.7 L1424.4 493.9 L1426.0 495.1 L1427.7 496.3 L1429.3 497.4 L1430.9 498.6 L1432.5 499.8 L1434.1 501.0 L1435.7 502.2 L1437.3 503.4 L1438.9 504.6 L1440.5 505.8 L1442.1 507.0 L1443.7 508.1 L1445.3 509.3 L1446.9 510.5 L1448.6 511.7 L1450.2 512.9 L1451.8 514.1 L1453.4 515.3 L1455.0 516.4 L1456.6 517.6 L1458.2 518.8 L1459.8 520.0 L1461.4 521.2 L1463.0 522.3 L1464.6 523.5 L1466.3 524.7 L1467.9 525.9 L1469.5 527.0 L1471.1 528.2 L1472.7 529.4 L1474.3 530.5 L1475.9 531.7 L1477.5 532.9 L1479.2 534.0 L1480.8 535.2 L1482.4 536.4 L1484.0 537.5 L1485.6 538.7 L1487.3 539.8 L1488.9 541.0 L1490.5 542.1 L1492.1 543.3 L1493.8 544.4 L1495.4 545.6 L1497.0 546.7 L1498.7 547.9 L1500.3 549.0 L1501.9 550.1 L1503.6 551.3 L1505.2 552.4 L1506.8 553.5 L1508.5 554.7 L1510.1 555.8 L1511.8 556.9 L1513.4 558.0 L1515.1 559.1 L1516.7 560.2 L1518.4 561.3 L1520.0 562.5 L1521.7 563.6 L1523.4 564.7 L1525.0 565.7 L1526.7 566.8 L1528.4 567.9 L1530.0 569.0 L1531.7 570.1 L1533.4 571.2 L1535.0 572.2 L1536.7 573.3 L1538.4 574.4 L1540.1 575.4 L1541.8 576.5 L1543.5 577.6 L1545.2 578.6 L1546.9 579.7 L1548.6 580.7 L1550.3 581.7 L1552.0 582.8 L1553.7 583.8 L1555.4 584.8 L1557.1 585.9 L1558.9 586.9 L1560.6 587.9 L1562.3 588.9 L1564.0 589.9 L1565.8 590.9 L1567.5 591.9 L1569.2 592.9 L1571.0 593.9 L1572.7 594.9 L1574.5 595.9 L1576.2 596.9 L1578.0 597.8 L1579.7 598.8 L1581.5 599.8 L1583.2 600.8 L1585.0 601.7 L1586.7 602.7 L1588.5 603.7 L1590.2 604.6 L1592.0 605.6 L1593.8 606.5 L1595.5 607.5 L1597.3 608.4 L1599.1 609.4 L1600.8 610.3 L1602.6 611.3 L1604.4 612.2 L1606.1 613.1 L1607.9 614.1 L1609.7 615.0 L1611.5 615.9 L1613.2 616.9 L1615.0 617.8 L1616.8 618.7 L1618.6 619.7 L1620.3 620.6 L1622.1 621.5 L1623.9 622.4 L1625.7 623.3 L1627.5 624.2 L1629.2 625.1 L1631.0 626.1 L1632.8 627.0 L1634.6 627.9 L1636.4 628.8 L1638.2 629.7 L1640.0 630.6 L1641.7 631.5 L1643.5 632.4 L1645.3 633.2 L1647.1 634.1 L1648.9 635.0 L1650.7 635.9 L1652.5 636.8 L1654.3 637.7 L1656.1 638.5 L1657.9 639.4 L1659.7 640.3 L1661.5 641.2 L1663.3 642.0 L1665.1 642.9 L1666.9 643.8 L1668.7 644.6 L1670.5 645.5 L1672.3 646.4 L1674.1 647.2 L1675.9 648.1 L1677.7 648.9 L1679.5 649.8 L1681.3 650.6 L1683.2 651.5 L1685.0 652.3 L1686.8 653.2 L1688.6 654.0 L1690.4 654.8 L1692.2 655.7 L1694.0 656.5 L1695.9 657.3 L1697.7 658.2 L1699.5 659.0 L1701.3 659.8 L1703.1 660.7 L1704.9 661.5 L1706.8 662.3 L1708.6 663.1 L1710.4 663.9 L1712.2 664.7 L1714.1 665.6 L1715.9 666.4 L1717.7 667.2 L1719.5 668.0 L1721.4 668.8 L1723.2 669.6 L1725.0 670.4 L1726.9 671.2 L1728.7 672.0 L1730.5 672.8 L1732.4 673.6 L1734.2 674.4 L1736.0 675.2 L1737.9 676.0 L1739.7 676.7 L1741.5 677.5 L1743.4 678.3 L1745.2 679.1 L1747.1 679.9 L1748.9 680.6 L1750.7 681.4 L1752.6 682.2 L1754.4 682.9 L1756.3 683.7 L1758.1 684.5 L1760.0 685.2 L1761.8 686.0 L1763.6 686.8 L1765.5 687.5 L1767.3 688.3 L1769.2 689.0 L1771.0 689.8 L1772.9 690.5 L1774.7 691.3 L1776.6 692.0 L1778.4 692.8 L1780.3 693.5 L1782.2 694.3 L1784.0 695.0 L1785.9 695.7 L1787.7 696.5 L1789.6 697.2 L1791.4 697.9 L1793.3 698.7 L1795.1 699.4 L1797.0 700.1 L1798.9 700.9 L1800.7 701.6 L1802.6 702.3 L1804.5 703.0 L1806.3 703.7 L1808.2 704.5 L1810.0 705.2 L1811.9 705.9 L1813.8 706.6 L1815.6 707.3 L1817.5 708.0 L1819.4 708.7 L1821.3 709.4 L1823.1 710.1 L1825.0 710.8 L1826.9 711.5 L1828.7 712.2 L1830.6 712.9 L1832.5 713.6 L1834.4 714.3 L1836.2 715.0 L1838.1 715.7 L1840.0 716.3 L1841.9 717.0 L1843.7 717.7 L1845.6 718.4 L1847.5 719.1 L1849.4 719.7 L1851.3 720.4 L1853.1 721.1 L1855.0 721.8 L1856.9 722.4 L1858.8 723.1 L1860.7 723.8 L1862.5 724.4 L1864.4 725.1 L1866.3 725.7 L1868.2 726.4 L1870.1 727.1 L1872.0 727.7 L1873.9 728.4 L1875.7 729.0 L1877.6 729.7 L1879.5 730.3 L1881.4 731.0 L1883.3 731.6 L1885.2 732.3 L1887.1 732.9 L1889.0 733.5 L1890.9 734.2 L1892.8 734.8 L1894.7 735.4 L1896.6 736.1 L1898.5 736.7 L1900.4 737.3 L1902.2 738.0 L1904.1 738.6 L1906.0 739.2 L1907.9 739.8 L1909.8 740.5 L1911.7 741.1 L1913.6 741.7 L1915.5 742.3 L1917.4 742.9 L1919.3 743.5 L1921.2 744.2 L1923.1 744.8 L1925.0 745.4 L1927.0 746.0 L1928.9 746.6 L1930.8 747.2 L1932.7 747.8 L1934.6 748.4 L1936.5 749.0 L1938.4 749.6 L1940.3 750.2 L1942.2 750.8 L1944.1 751.4 L1946.0 752.0 L1947.9 752.6 L1949.8 753.1 L1951.8 753.7 L1953.7 754.3 L1955.6 754.9 L1957.5 755.5 L1959.4 756.1 L1961.3 756.6 L1963.2 757.2 L1965.1 757.8 L1967.1 758.4 L1969.0 758.9 L1970.9 759.5 L1972.8 760.1 L1974.7 760.6 L1976.6 761.2 L1978.6 761.8 L1980.5 762.3 L1982.4 762.9 L1984.3 763.5 L1986.2 764.0 L1988.2 764.6 L1990.1 765.1 L1992.0 765.7 L1993.9 766.2 L1995.8 766.8 L1997.8 767.3 L1999.7 767.9 L2001.6 768.4 L2003.5 769.0 L2005.5 769.5 L2007.4 770.1 L2009.3 770.6 L2011.2 771.1 L2013.2 771.7 L2015.1 772.2 L2017.0 772.7 L2018.9 773.3 L2020.9 773.8 L2022.8 774.3 L2024.7 774.9 L2026.6 775.4 L2028.6 775.9 L2030.5 776.4 L2032.4 777.0 L2034.4 777.5 L2036.3 778.0 L2038.2 778.5 L2040.2 779.0 L2042.1 779.6 L2044.0 780.1 L2046.0 780.6 L2047.9 781.1 L2049.8 781.6 L2051.8 782.1 L2053.7 782.6 L2055.6 783.1 L2057.6 783.6 L2059.5 784.1 L2061.4 784.6 L2063.4 785.1 L2065.3 785.6 L2067.3 786.1 L2069.2 786.6 L2071.1 787.1 L2073.1 787.6 L2075.0 788.1 L2076.9 788.6 L2078.9 789.1 L2080.8 789.6 L2082.8 790.1 L2084.7 790.5 L2086.6 791.0 L2088.6 791.5 L2090.5 792.0 L2092.5 792.5 L2094.4 792.9 L2096.4 793.4 L2098.3 793.9 L2100.2 794.4 L2102.2 794.8 L2104.1 795.3 L2106.1 795.8 L2108.0 796.3 L2110.0 796.7 L2111.9 797.2 L2113.8 797.7 L2115.8 798.1 L2117.7 798.6 L2119.7 799.0 L2121.6 799.5 L2123.6 800.0 L2125.5 800.4 L2127.5 800.9 L2129.4 801.3 L2131.4 801.8 L2133.3 802.2 L2135.3 802.7 L2137.2 803.1 L2139.2 803.6 L2141.1 804.0 L2143.1 804.5 L2145.0 804.9 L2147.0 805.4 L2148.9 805.8 L2150.9 806.2 L2152.8 806.7 L2154.8 807.1 L2156.7 807.6 L2158.7 808.0 L2160.6 808.4 L2162.6 808.9 L2164.5 809.3 L2166.5 809.7 L2168.4 810.2 L2170.4 810.6 L2172.3 811.0 L2174.3 811.4 L2176.2 811.9 L2178.2 812.3 L2180.1 812.7 L2182.1 813.1 L2184.1 813.6 L2186.0 814.0 L2188.0 814.4 L2189.9 814.8 L2191.9 815.2 L2193.8 815.6 L2195.8 816.1 L2197.7 816.5 L2199.7 816.9 L2201.7 817.3 L2203.6 817.7 L2205.6 818.1 L2207.5 818.5 L2209.5 818.9 L2211.4 819.3 L2213.4 819.7 L2215.4 820.1 L2217.3 820.5 L2219.3 820.9 L2221.2 821.3 L2223.2 821.7 L2225.1 822.1 L2227.1 822.5 L2229.1 822.9 L2231.0 823.3 L2233.0 823.7 L2234.9 824.1 L2236.9 824.5 L2238.9 824.9 L2240.8 825.2 L2242.8 825.6 L2244.7 826.0 L2246.7 826.4 L2248.7 826.8 L2250.6 827.2 L2252.6 827.5 L2254.5 827.9 L2256.5 828.3" stroke="#0000ff"/>
<path d="M359.5 1137.4 L361.4 1137.0 L363.4 1136.5 L365.3 1136.1 L367.3 1135.6 L369.2 1135.2 L371.1 1134.7 L373.1 1134.2 L375.0 1133.8 L377.0 1133.3 L378.9 1132.9 L380.8 1132.4 L382.8 1131.9 L384.7 1131.4 L386.6 1131.0 L388.6 1130.5 L390.5 1130.0 L392.4 1129.5 L394.4 1129.0 L396.3 1128.6 L398.2 1128.1 L400.2 1127.6 L402.1 1127.1 L404.0 1126.6 L405.9 1126.1 L407.9 1125.6 L409.8 1125.1 L411.7 1124.6 L413.7 1124.1 L415.6 1123.5 L417.5 1123.0 L419.4 1122.5 L421.3 1122.0 L423.3 1121.5 L425.2 1121.0 L427.1 1120.4 L429.0 1119.9 L430.9 1119.4 L432.9 1118.8 L434.8 1118.3 L436.7 1117.8 L438.6 1117.2 L440.5 1116.7 L442.5 1116.2 L444.4 1115.6 L446.3 1115.1 L448.2 1114.5 L450.1 1114.0 L452.0 1113.4 L453.9 1112.9 L455.8 1112.3 L457.8 1111.7 L459.7 1111.2 L461.6 1110.6 L463.5 1110.1 L465.4 1109.5 L467.3 1108.9 L469.2 1108.3 L471.1 1107.8 L473.0 1107.2 L474.9 1106.6 L476.8 1106.0 L478.7 1105.5 L480.6 1104.9 L482.5 1104.3 L484.4 1103.7 L486.3 1103.1 L488.2 1102.5 L490.1 1101.9 L492.0 1101.3 L493.9 1100.7 L495.8 1100.1 L497.7 1099.5 L499.6 1098.9 L501.5 1098.3 L503.4 1097.7 L505.3 1097.1 L507.2 1096.5 L509.1 1095.9 L511.0 1095.3 L512.9 1094.7 L514.8 1094.1 L516.7 1093.5 L518.6 1092.8 L520.5 1092.2 L522.4 1091.6 L524.3 1091.0 L526.1 1090.3 L528.0 1089.7 L529.9 1089.1 L531.8 1088.5 L533.7 1087.8 L535.6 1087.2 L537.5 1086.6 L539.4 1085.9 L541.3 1085.3 L543.1 1084.6 L545.0 1084.0 L546.9 1083.4 L548.8 1082.7 L550.7 1082.1 L552.6 1081.4 L554.4 1080.8 L556.3 1080.1 L558.2 1079.5 L560.1 1078.8 L562.0 1078.2 L563.8 1077.5 L565.7 1076.8 L567.6 1076.2 L569.5 1075.5 L571.4 1074.9 L573.2 1074.2 L575.1 1073.5 L577.0 1072.9 L578.9 1072.2 L580.7 1071.5 L582.6 1070.9 L584.5 1070.2 L586.4 1069.5 L588.2 1068.9 L590.1 1068.2 L592.0 1067.5 L593.9 1066.8 L595.7 1066.1 L597.6 1065.5 L599.5 1064.8 L601.4 1064.1 L603.2 1063.4 L605.1 1062.7 L607.0 1062.0 L608.8 1061.4 L610.7 1060.7 L612.6 1060.0 L614.4 1059.3 L616.3 1058.6 L618.2 1057.9 L620.0 1057.2 L621.9 1056.5 L623.8 1055.8 L625.6 1055.1 L627.5 1054.4 L629.4 1053.7 L631.2 1053.0 L633.1 1052.3 L635.0 1051.6 L636.8 1050.9 L638.7 1050.2 L640.5 1049.5 L642.4 1048.8 L644.3 1048.1 L646.1 1047.4 L648.0 1046.7 L649.9 1046.0 L651.7 1045.3 L653.6 1044.6 L655.4 1043.9 L657.3 1043.1 L659.1 1042.4 L661.0 1041.7 L662.9 1041.0 L664.7 1040.3 L666.6 1039.6 L668.4 1038.9 L670.3 1038.1 L672.1 1037.4 L674.0 1036.7 L688.0 1034.2 L699.5 1034.0 L700.9 1032.6 L702.2 1031.1 L703.6 1029.7 L705.0 1028.3 L706.4 1026.8 L707.8 1025.4 L709.2 1024.0 L710.6 1022.5 L712.0 1021.1 L713.4 1019.7 L714.8 1018.3 L716.2 1016.9 L717.6 1015.5 L719.0 1014.1 L720.4 1012.6 L721.8 1011.2 L723.3 1009.8 L724.7 1008.4 L726.1 1007.0 L727.5 1005.6 L728.9 1004.2 L730.4 1002.8 L731.8 1001.4 L733.2 1000.0 L734.6 998.6 L736.1 997.2 L737.5 995.8 L738.9 994.4 L740.3 993.0 L741.8 991.6 L743.2 990.2 L744.6 988.8 L746.0 987.4 L747.5 986.0 L748.9 984.6 L750.3 983.2 L751.7 981.8 L753.1 980.4 L754.5 979.0 L755.9 977.6 L757.3 976.1 L758.7 974.7 L760.1 973.3 L761.5 971.8 L762.8 970.4 L764.2 968.9 L765.6 967.5 L766.9 966.0 L768.2 964.5 L769.6 963.1 L770.9 961.6 L772.2 960.1 L773.5 958.6 L774.8 957.1 L776.1 955.5 L777.4 954.0 L778.6 952.5 L779.9 950.9 L781.1 949.4 L782.4 947.8 L783.6 946.3 L784.8 944.7 L786.0 943.1 L787.3 941.5 L788.4 939.9 L789.6 938.3 L790.8 936.7 L792.0 935.1 L793.2 933.5 L794.3 931.9 L795.5 930.3 L796.6 928.6 L797.8 927.0 L798.9 925.3 L800.0 923.7 L801.1 922.0 L802.2 920.4 L803.3 918.7 L804.4 917.0 L805.5 915.4 L806.6 913.7 L807.7 912.0 L808.8 910.3 L809.8 908.6 L810.9 906.9 L811.9 905.2 L813.0 903.5 L814.0 901.8 L815.1 900.1 L816.1 898.4 L817.1 896.7 L818.1 894.9 L819.2 893.2 L820.2 891.5 L821.2 889.8 L822.2 888.0 L823.2 886.3 L824.2 884.6 L825.1 882.8 L826.1 881.1 L827.1 879.3 L828.1 877.6 L829.1 875.8 L830.0 874.1 L831.0 872.3 L831.9 870.6 L832.9 868.8 L833.8 867.1 L834.8 865.3 L835.7 863.5 L836.7 861.8 L837.6 860.0 L838.5 858.2 L839.4 856.4 L840.4 854.7 L841.3 852.9 L842.2 851.1 L843.1 849.3 L844.0 847.5 L844.9 845.8 L845.8 844.0 L846.7 842.2 L847.6 840.4 L848.5 838.6 L849.4 836.8 L850.2 835.0 L851.1 833.2 L852.0 831.4 L852.9 829.6 L853.7 827.8 L854.6 826.0 L855.5 824.2 L856.3 822.4 L857.2 820.6 L858.0 818.8 L858.9 817.0 L859.7 815.2 L860.6 813.3 L861.4 811.5 L862.3 809.7 L863.1 807.9 L864.0 806.1 L864.8 804.3 L865.6 802.4 L866.4 800.6 L867.3 798.8 L868.1 797.0 L868.9 795.1 L869.7 793.3 L870.6 791.5 L871.4 789.7 L872.2 787.8 L873.0 786.0 L873.8 784.2 L874.6 782.3 L875.4 780.5 L876.2 778.7 L877.1 776.8 L877.9 775.0 L878.7 773.2 L879.5 771.3 L880.3 769.5 L881.1 767.7 L881.9 765.8 L882.6 764.0 L883.4 762.1 L884.2 760.3 L885.0 758.5 L885.8 756.6 L886.6 754.8 L887.4 752.9 L888.2 751.1 L889.0 749.3 L889.8 747.4 L890.5 745.6 L891.3 743.7 L892.1 741.9 L892.9 740.0 L893.7 738.2 L894.5 736.4 L895.2 734.5 L896.0 732.7 L896.8 730.8 L897.6 729.0 L898.4 727.1 L899.1 725.3 L899.9 723.5 L900.7 721.6 L901.5 719.8 L902.3 717.9 L903.0 716.1 L903.8 714.3 L904.6 712.4 L905.4 710.6 L906.2 708.7 L906.9 706.9 L907.7 705.1 L908.5 703.2 L909.3 701.4 L910.1 699.5 L910.8 697.7 L911.6 695.9 L912.4 694.0 L913.2 692.2 L914.0 690.3 L914.8 688.5 L915.5 686.7 L916.3 684.8 L917.1 683.0 L917.9 681.2 L918.7 679.3 L919.5 677.5 L920.3 675.7 L921.0 673.8 L921.8 672.0 L922.6 670.2 L923.4 668.3 L924.2 666.5 L925.0 664.7 L925.8 662.8 L926.6 661.0 L927.4 659.2 L928.2 657.4 L929.0 655.5 L929.8 653.7 L930.6 651.9 L931.4 650.1 L932.2 648.2 L933.0 646.4 L933.8 644.6 L934.6 642.8 L935.4 640.9 L936.2 639.1 L937.0 637.3 L937.8 635.5 L938.6 633.6 L939.5 631.8 L940.3 630.0 L941.1 628.2 L941.9 626.4 L942.7 624.6 L943.5 622.7 L944.4 620.9 L945.2 619.1 L946.0 617.3 L946.8 615.5 L947.7 613.7 L948.5 611.9 L949.3 610.0 L950.2 608.2 L951.0 606.4 L951.9 604.6 L952.7 602.8 L953.5 601.0 L954.4 599.2 L955.2 597.4 L956.1 595.6 L956.9 593.8 L957.8 592.0 L958.6 590.2 L959.5 588.4 L960.3 586.6 L961.2 584.8 L962.1 583.0 L962.9 581.2 L963.8 579.4 L964.7 577.6 L965.5 575.8 L966.4 574.0 L967.3 572.2 L968.2 570.4 L969.1 568.6 L969.9 566.8 L970.8 565.1 L971.7 563.3 L972.6 561.5 L973.5 559.7 L974.4 557.9 L975.3 556.1 L976.2 554.4 L977.1 552.6 L978.0 550.8 L978.9 549.0 L979.8 547.2 L980.7 545.5 L981.7 543.7 L982.6 541.9 L983.5 540.2 L984.4 538.4 L985.4 536.6 L986.3 534.8 L987.2 533.1 L988.2 531.3 L989.1 529.5 L990.1 527.8 L991.0 526.0 L992.0 524.3 L992.9 522.5 L993.9 520.7 L994.9 519.0 L995.8 517.2 L996.8 515.5 L997.8 513.7 L998.7 512.0 L999.7 510.2 L1000.7 508.5 L1001.7 506.7 L1002.7 505.0 L1003.7 503.2 L1004.7 501.5 L1005.7 499.7 L1006.7 498.0 L1007.7 496.3 L1008.7 494.5 L1009.7 492.8 L1010.7 491.1 L1011.7 489.3 L1012.8 487.6 L1013.8 485.9 L1014.8 484.1 L1015.9 482.4 L1016.9 480.7 L1018.0 479.0 L1019.0 477.2 L1020.1 475.5 L1021.1 473.8 L1022.2 472.1 L1023.3 470.4 L1024.4 468.7 L1025.4 467.0 L1026.5 465.3 L1027.6 463.6 L1028.7 461.9 L1029.8 460.2 L1031.0 458.6 L1032.1 456.9 L1033.2 455.2 L1034.4 453.6 L1035.5 451.9 L1036.7 450.3 L1037.8 448.6 L1039.0 447.0 L1040.2 445.4 L1041.4 443.8 L1042.6 442.2 L1043.8 440.6 L1045.0 439.0 L1046.3 437.4 L1047.5 435.9 L1048.8 434.3 L1050.0 432.8 L1051.3 431.2 L1052.6 429.7 L1053.9 428.2 L1055.2 426.7 L1056.5 425.2 L1057.9 423.8 L1059.2 422.3 L1060.6 420.8 L1061.9 419.4 L1063.3 418.0 L1064.7 416.6 L1066.1 415.2 L1067.6 413.8 L1069.0 412.4 L1070.4 411.1 L1071.9 409.7 L1073.4 408.4 L1074.9 407.1 L1076.4 405.8 L1077.9 404.5 L1079.5 403.3 L1081.1 402.1 L1082.6 400.8 L1084.2 399.6 L1085.8 398.4 L1087.5 397.3 L1089.1 396.1 L1090.8 395.0 L1092.4 393.9 L1094.1 392.8 L1095.8 391.7 L1097.5 390.7 L1099.3 389.7 L1101.0 388.7 L1102.8 387.7 L1104.5 386.8 L1106.3 385.9 L1108.1 385.0 L1109.9 384.2 L1111.7 383.3 L1113.6 382.6 L1115.4 381.8 L1117.3 381.1 L1119.1 380.4 L1121.0 379.7 L1122.9 379.1 L1124.8 378.5 L1126.7 378.0 L1128.6 377.5 L1130.5 377.0 L1132.5 376.6 L1134.4 376.2 L1136.4 375.8 L1138.3 375.5 L1140.3 375.2 L1142.2 374.9 L1144.2 374.6 L1146.2 374.4 L1148.2 374.3 L1150.1 374.1 L1152.1 374.0 L1154.1 373.9 L1156.1 373.9 L1158.1 373.8 L1160.1 373.9 L1162.1 373.9 L1164.1 374.0 L1166.1 374.1 L1168.1 374.2 L1170.1 374.3 L1172.1 374.5 L1174.1 374.7 L1176.1 375.0 L1178.0 375.2 L1180.0 375.5 L1182.0 375.8 L1184.0 376.2 L1186.0 376.5 L1187.9 376.9 L1189.9 377.4 L1191.8 377.8 L1193.8 378.3 L1195.7 378.8 L1197.7 379.3 L1199.6 379.8 L1201.5 380.4 L1203.5 381.0 L1205.4 381.6 L1207.3 382.2 L1209.1 382.9 L1211.0 383.6 L1212.9 384.3 L1214.8 385.0 L1216.6 385.7 L1218.5 386.5 L1220.3 387.2 L1222.2 388.0 L1224.0 388.8 L1225.8 389.6 L1227.7 390.5 L1229.5 391.3 L1231.3 392.2 L1233.1 393.0 L1234.9 393.9 L1236.7 394.8 L1238.5 395.7 L1240.3 396.7 L1242.1 397.6 L1243.8 398.5 L1245.6 399.5 L1247.4 400.5 L1249.1 401.4 L1250.9 402.4 L1252.6 403.4 L1254.4 404.4 L1256.1 405.4 L1257.9 406.4 L1259.6 407.4 L1261.3 408.4 L1263.1 409.4 L1264.8 410.5 L1266.5 411.5 L1268.2 412.5 L1270.0 413.5 L1271.7 414.6 L1273.4 415.6 L1275.1 416.7 L1276.8 417.7 L1278.5 418.8 L1280.2 419.8 L1281.9 420.9 L1283.6 421.9 L1285.3 423.0 L1287.0 424.1 L1288.7 425.1 L1290.4 426.2 L1292.0 427.3 L1293.7 428.3 L1295.4 429.4 L1297.1 430.5 L1298.8 431.6 L1300.4 432.7 L1302.1 433.8 L1303.8 434.9 L1305.5 435.9 L1307.1 437.0 L1308.8 438.1 L1310.5 439.2 L1312.1 440.3 L1313.8 441.4 L1315.4 442.5 L1317.1 443.6 L1318.8 444.7 L1320.4 445.9 L1322.1 447.0 L1323.7 448.1 L1325.4 449.2 L1327.0 450.3 L1328.7 451.4 L1330.4 452.5 L1332.0 453.6 L1333.7 454.7 L1335.3 455.9 L1337.0 457.0 L1338.6 458.1 L1340.3 459.2 L1341.9 460.3 L1343.6 461.4 L1345.2 462.6 L1346.9 463.7 L1348.5 464.8 L1350.2 465.9 L1351.8 467.0 L1353.5 468.1 L1355.1 469.2 L1356.8 470.4 L1358.5 471.5 L1360.1 472.6 L1361.8 473.7 L1363.4 474.8 L1365.1 475.9 L1366.7 477.0 L1368.4 478.1 L1370.1 479.3 L1371.7 480.4 L1373.4 481.5 L1375.1 482.6 L1376.7 483.7 L1378.4 484.8 L1380.1 485.9 L1381.7 487.0 L1383.4 488.1 L1385.1 489.2 L1386.7 490.3 L1388.4 491.4 L1390.1 492.5 L1391.8 493.5 L1393.4 494.6 L1395.1 495.7 L1396.8 496.8 L1398.5 497.9 L1400.1 499.0 L1401.8 500.1 L1403.5 501.2 L1405.2 502.3 L1406.8 503.4 L1408.5 504.5 L1410.2 505.5 L1411.9 506.6 L1413.6 507.7 L1415.2 508.8 L1416.9 509.9 L1418.6 511.0 L1420.3 512.1 L1422.0 513.1 L1423.7 514.2 L1425.3 515.3 L1427.0 516.4 L1428.7 517.5 L1430.4 518.6 L1432.1 519.7 L1433.8 520.7 L1435.4 521.8 L1437.1 522.9 L1438.8 524.0 L1440.5 525.1 L1442.2 526.2 L1443.9 527.2 L1445.5 528.3 L1447.2 529.4 L1448.9 530.5 L1450.6 531.6 L1452.3 532.7 L1453.9 533.8 L1455.6 534.9 L1457.3 536.0 L1459.0 537.0 L1460.7 538.1 L1462.3 539.2 L1464.0 540.3 L1465.7 541.4 L1467.4 542.5 L1469.0 543.6 L1470.7 544.7 L1472.4 545.8 L1474.1 546.9 L1475.7 548.0 L1477.4 549.1 L1479.1 550.2 L1480.8 551.3 L1482.4 552.4 L1484.1 553.5 L1485.8 554.6 L1487.4 555.7 L1489.1 556.8 L1490.8 557.9 L1492.4 559.0 L1494.1 560.1 L1495.7 561.2 L1497.4 562.4 L1499.1 563.5 L1500.7 564.6 L1502.4 565.7 L1504.0 566.8 L1505.7 567.9 L1507.3 569.1 L1509.0 570.2 L1510.7 571.3 L1512.3 572.4 L1514.0 573.5 L1515.6 574.6 L1517.3 575.7 L1518.9 576.8 L1520.6 577.9 L1522.3 579.0 L1523.9 580.1 L1525.6 581.2 L1527.3 582.3 L1529.0 583.4 L1530.6 584.5 L1532.3 585.5 L1534.0 586.6 L1535.7 587.7 L1537.4 588.7 L1539.1 589.7 L1540.8 590.8 L1542.5 591.8 L1544.2 592.8 L1545.9 593.8 L1547.6 594.8 L1549.3 595.8 L1551.0 596.8 L1552.8 597.8 L1554.5 598.8 L1556.2 599.7 L1558.0 600.7 L1559.7 601.6 L1561.5 602.5 L1563.3 603.4 L1565.0 604.4 L1566.8 605.3 L1568.6 606.2 L1570.3 607.1 L1572.1 608.0 L1573.9 608.9 L1575.7 609.7 L1577.4 610.6 L1579.2 611.5 L1581.0 612.4 L1582.8 613.3 L1584.6 614.1 L1586.4 615.0 L1588.2 615.9 L1590.0 616.7 L1591.8 617.6 L1593.6 618.5 L1595.4 619.4 L1597.2 620.2 L1599.0 621.1 L1600.8 622.0 L1602.6 622.9 L1604.4 623.7 L1606.2 624.6 L1608.0 625.5 L1609.7 626.4 L1611.5 627.3 L1613.3 628.2 L1615.1 629.1 L1616.9 630.0 L1618.7 630.9 L1620.5 631.8 L1622.3 632.7 L1624.1 633.6 L1625.9 634.5 L1627.7 635.4 L1629.5 636.3 L1631.3 637.2 L1633.1 638.1 L1634.8 639.0 L1636.6 639.9 L1638.4 640.8 L1640.2 641.7 L1642.0 642.6 L1643.8 643.5 L1645.6 644.4 L1647.4 645.3 L1649.2 646.2 L1651.0 647.1 L1652.8 648.0 L1654.6 648.9 L1656.4 649.7 L1658.2 650.6 L1660.0 651.5 L1661.8 652.4 L1663.6 653.3 L1665.4 654.2 L1667.2 655.1 L1669.0 655.9 L1670.8 656.8 L1672.6 657.7 L1674.4 658.5 L1676.2 659.4 L1678.0 660.3 L1679.9 661.1 L1681.7 662.0 L1683.5 662.9 L1685.3 663.7 L1687.1 664.6 L1688.9 665.4 L1690.7 666.3 L1692.6 667.1 L1694.4 667.9 L1696.2 668.8 L1698.0 669.6 L1699.8 670.4 L1701.7 671.3 L1703.5 672.1 L1705.3 672.9 L1707.1 673.8 L1709.0 674.6 L1710.8 675.4 L1712.6 676.2 L1714.4 677.0 L1716.3 677.8 L1718.1 678.6 L1719.9 679.4 L1721.8 680.3 L1723.6 681.1 L1725.4 681.9 L1727.3 682.6 L1729.1 683.4 L1730.9 684.2 L1732.8 685.0 L1734.6 685.8 L1736.5 686.6 L1738.3 687.4 L1740.1 688.2 L1742.0 688.9 L1743.8 689.7 L1745.7 690.5 L1747.5 691.2 L1749.4 692.0 L1751.2 692.8 L1753.1 693.5 L1754.9 694.3 L1756.8 695.1 L1758.6 695.8 L1760.5 696.6 L1762.3 697.3 L1764.2 698.1 L1766.0 698.8 L1767.9 699.6 L1769.7 700.3 L1771.6 701.0 L1773.4 701.8 L1775.3 702.5 L1777.1 703.2 L1779.0 704.0 L1780.9 704.7 L1782.7 705.4 L1784.6 706.2 L1786.5 706.9 L1788.3 707.6 L1790.2 708.3 L1792.0 709.0 L1793.9 709.7 L1795.8 710.5 L1797.6 711.2 L1799.5 711.9 L1801.4 712.6 L1803.2 713.3 L1805.1 714.0 L1807.0 714.7 L1808.9 715.4 L1810.7 716.1 L1812.6 716.8 L1814.5 717.4 L1816.4 718.1 L1818.2 718.8 L1820.1 719.5 L1822.0 720.2 L1823.9 720.9 L1825.7 721.5 L1827.6 722.2 L1829.5 722.9 L1831.4 723.6 L1833.3 724.2 L1835.1 724.9 L1837.0 725.6 L1838.9 726.2 L1840.8 726.9 L1842.7 727.5 L1844.6 728.2 L1846.4 728.9 L1848.3 729.5 L1850.2 730.2 L1852.1 730.8 L1854.0 731.5 L1855.9 732.1 L1857.8 732.8 L1859.7 733.4 L1861.6 734.0 L1863.5 734.7 L1865.3 735.3 L1867.2 735.9 L1869.1 736.6 L1871.0 737.2 L1872.9 737.8 L1874.8 738.5 L1876.7 739.1 L1878.6 739.7 L1880.5 740.3 L1882.4 740.9 L1884.3 741.6 L1886.2 742.2 L1888.1 742.8 L1890.0 743.4 L1891.9 744.0 L1893.8 744.6 L1895.7 745.2 L1897.6 745.8 L1899.5 746.4 L1901.4 747.0 L1903.3 747.6 L1905.2 748.2 L1907.1 748.8 L1909.1 749.4 L1911.0 750.0 L1912.9 750.6 L1914.8 751.2 L1916.7 751.8 L1918.6 752.4 L1920.5 752.9 L1922.4 753.5 L1924.3 754.1 L1926.2 754.7 L1928.2 755.3 L1930.1 755.8 L1932.0 756.4 L1933.9 757.0 L1935.8 757.6 L1937.7 758.1 L1939.6 758.7 L1941.6 759.3 L1943.5 759.8 L1945.4 760.4 L1947.3 760.9 L1949.2 761.5 L1951.1 762.1 L1953.1 762.6 L1955.0 763.2 L1956.9 763.7 L1958.8 764.3 L1960.8 764.8 L1962.7 765.4 L1964.6 765.9 L1966.5 766.5 L1968.4 767.0 L1970.4 767.5 L1972.3 768.1 L1974.2 768.6 L1976.1 769.2 L1978.1 769.7 L1980.0 770.2 L1981.9 770.8 L1983.8 771.3 L1985.8 771.8 L1987.7 772.4 L1989.6 772.9 L1991.6 773.4 L1993.5 773.9 L1995.4 774.5 L1997.3 775.0 L1999.3 775.5 L2001.2 776.0 L2003.1 776.5 L2005.1 777.0 L2007.0 777.6 L2008.9 778.1 L2010.9 778.6 L2012.8 779.1 L2014.7 779.6 L2016.7 780.1 L2018.6 780.6 L2020.5 781.1 L2022.5 781.6 L2024.4 782.1 L2026.3 782.6 L2028.3 783.1 L2030.2 783.6 L2032.2 784.1 L2034.1 784.6 L2036.0 785.1 L2038.0 785.6 L2039.9 786.1 L2041.8 786.6 L2043.8 787.1 L2045.7 787.6 L2047.7 788.1 L2049.6 788.5 L2051.5 789.0 L2053.5 789.5 L2055.4 790.0 L2057.4 790.5 L2059.3 790.9 L2061.3 791.4 L2063.2 791.9 L2065.1 792.4 L2067.1 792.9 L2069.0 793.3 L2071.0 793.8 L2072.9 794.3 L2074.9 794.7 L2076.8 795.2 L2078.8 795.7 L2080.7 796.1 L2082.6 796.6 L2084.6 797.1 L2086.5 797.5 L2088.5 798.0 L2090.4 798.5 L2092.4 798.9 L2094.3 799.4 L2096.3 799.8 L2098.2 800.3 L2100.2 800.8 L2102.1 801.2 L2104.1 801.7 L2106.0 802.1 L2108.0 802.6 L2109.9 803.0 L2111.9 803.5 L2113.8 803.9 L2115.8 804.4 L2117.7 804.8 L2119.7 805.3 L2121.6 805.7 L2123.6 806.2 L2125.5 806.6 L2127.5 807.0 L2129.4 807.5 L2131.4 807.9 L2133.3 808.4 L2135.3 808.8 L2137.2 809.2 L2139.2 809.7 L2141.1 810.1 L2143.1 810.5 L2145.0 811.0 L2147.0 811.4 L2148.9 811.8 L2150.9 812.3 L2152.8 812.7 L2154.8 813.1 L2156.7 813.6 L2158.7 814.0 L2160.7 814.4 L2162.6 814.8 L2164.6 815.3 L2166.5 815.7 L2168.5 816.1 L2170.4 816.5 L2172.4 817.0 L2174.3 817.4 L2176.3 817.8 L2178.2 818.2 L2180.2 818.6 L2182.2 819.1 L2184.1 819.5 L2186.1 819.9 L2188.0 820.3 L2190.0 820.7 L2191.9 821.2 L2193.9 821.6 L2195.8 822.0 L2197.8 822.4 L2199.8 822.8 L2201.7 823.2 L2203.7 823.6 L2205.6 824.0 L2207.6 824.4 L2209.5 824.9 L2211.5 825.3 L2213.5 825.7 L2215.4 826.1 L2217.4 826.5 L2219.3 826.9 L2221.3 827.3 L2223.2 827.7 L2225.2 828.1 L2227.1 828.5 L2229.1 828.9 L2231.1 829.3 L2233.0 829.7 L2235.0 830.1 L2236.9 830.5 L2238.9 830.9 L2240.8 831.3 L2242.8 831.7 L2244.8 832.1 L2246.7 832.5 L2248.7 832.9 L2250.6 833.3 L2252.6 833.7 L2254.5 834.1 L2256.5 834.5" stroke="#ff00ff"/>
<path d="M359.5 1138.7 L361.4 1138.2 L363.4 1137.8 L365.3 1137.3 L367.3 1136.9 L369.2 1136.4 L371.1 1135.9 L373.1 1135.5 L375.0 1135.0 L377.0 1134.5 L378.9 1134.0 L380.8 1133.6 L382.8 1133.1 L384.7 1132.6 L386.6 1132.1 L388.6 1131.6 L390.5 1131.2 L392.5 1130.7 L394.4 1130.2 L396.3 1129.7 L398.3 1129.2 L400.2 1128.7 L402.1 1128.2 L404.1 1127.7 L406.0 1127.2 L407.9 1126.7 L409.9 1126.2 L411.8 1125.7 L413.7 1125.2 L415.7 1124.7 L417.6 1124.2 L419.5 1123.7 L421.4 1123.2 L423.4 1122.7 L425.3 1122.2 L427.2 1121.7 L429.2 1121.2 L431.1 1120.6 L433.0 1120.1 L434.9 1119.6 L436.9 1119.1 L438.8 1118.6 L440.7 1118.0 L442.6 1117.5 L444.6 1117.0 L446.5 1116.4 L448.4 1115.9 L450.3 1115.4 L452.3 1114.8 L454.2 1114.3 L456.1 1113.8 L458.0 1113.2 L460.0 1112.7 L461.9 1112.1 L463.8 1111.6 L465.7 1111.0 L467.6 1110.5 L469.6 1109.9 L471.5 1109.4 L473.4 1108.8 L475.3 1108.3 L477.2 1107.7 L479.1 1107.1 L481.1 1106.6 L483.0 1106.0 L484.9 1105.4 L486.8 1104.9 L488.7 1104.3 L490.6 1103.7 L492.5 1103.2 L494.4 1102.6 L496.4 1102.0 L498.3 1101.4 L500.2 1100.8 L502.1 1100.3 L504.0 1099.7 L505.9 1099.1 L507.8 1098.5 L509.7 1097.9 L511.6 1097.3 L513.5 1096.7 L515.4 1096.1 L517.3 1095.5 L519.3 1094.9 L521.2 1094.3 L523.1 1093.7 L525.0 1093.1 L526.9 1092.5 L528.8 1091.9 L530.7 1091.3 L532.6 1090.7 L534.5 1090.1 L536.4 1089.5 L538.3 1088.9 L540.2 1088.2 L542.1 1087.6 L544.0 1087.0 L545.9 1086.4 L547.8 1085.7 L549.6 1085.1 L551.5 1084.5 L553.4 1083.9 L555.3 1083.2 L557.2 1082.6 L559.1 1081.9 L561.0 1081.3 L562.9 1080.7 L564.8 1080.0 L566.7 1079.4 L568.6 1078.7 L570.4 1078.1 L572.3 1077.4 L574.2 1076.8 L576.1 1076.1 L578.0 1075.5 L579.9 1074.8 L581.8 1074.1 L583.6 1073.5 L585.5 1072.8 L587.4 1072.1 L589.3 1071.5 L591.2 1070.8 L593.0 1070.1 L594.9 1069.5 L596.8 1068.8 L598.7 1068.1 L600.6 1067.4 L602.4 1066.7 L604.3 1066.1 L606.2 1065.4 L608.1 1064.7 L609.9 1064.0 L611.8 1063.3 L613.7 1062.6 L615.5 1061.9 L617.4 1061.2 L619.3 1060.5 L621.2 1059.8 L623.0 1059.1 L624.9 1058.4 L626.8 1057.7 L628.6 1057.0 L630.5 1056.3 L632.4 1055.6 L634.2 1054.9 L636.1 1054.1 L637.9 1053.4 L639.8 1052.7 L641.7 1052.0 L643.5 1051.2 L645.4 1050.5 L647.2 1049.8 L649.1 1049.1 L650.9 1048.3 L652.8 1047.6 L654.7 1046.9 L656.5 1046.1 L658.4 1045.4 L660.2 1044.6 L662.1 1043.9 L663.9 1043.1 L665.8 1042.4 L667.6 1041.6 L669.5 1040.9 L671.3 1040.1 L673.2 1039.4 L675.0 1038.6 L690.0 1036.3 L701.0 1035.0 L702.4 1033.6 L703.8 1032.2 L705.3 1030.8 L706.7 1029.4 L708.1 1028.0 L709.6 1026.7 L711.1 1025.3 L712.5 1023.9 L714.0 1022.6 L715.5 1021.2 L717.0 1019.9 L718.4 1018.6 L719.9 1017.2 L721.4 1015.9 L722.9 1014.6 L724.4 1013.3 L725.9 1012.0 L727.5 1010.7 L729.0 1009.3 L730.5 1008.0 L732.0 1006.7 L733.5 1005.4 L735.0 1004.1 L736.6 1002.8 L738.1 1001.5 L739.6 1000.2 L741.1 998.9 L742.6 997.6 L744.1 996.3 L745.7 995.0 L747.2 993.7 L748.7 992.4 L750.2 991.1 L751.7 989.8 L753.2 988.5 L754.7 987.1 L756.2 985.8 L757.7 984.5 L759.2 983.1 L760.6 981.8 L762.1 980.5 L763.6 979.1 L765.0 977.8 L766.5 976.4 L767.9 975.0 L769.4 973.7 L770.8 972.3 L772.2 970.9 L773.6 969.5 L775.0 968.1 L776.4 966.7 L777.8 965.2 L779.2 963.8 L780.6 962.4 L781.9 960.9 L783.3 959.4 L784.6 958.0 L785.9 956.5 L787.2 955.0 L788.5 953.5 L789.8 951.9 L791.1 950.4 L792.4 948.9 L793.6 947.3 L794.9 945.8 L796.1 944.2 L797.3 942.6 L798.6 941.1 L799.8 939.5 L801.0 937.9 L802.2 936.3 L803.4 934.7 L804.6 933.1 L805.8 931.5 L807.0 929.9 L808.2 928.3 L809.3 926.6 L810.5 925.0 L811.7 923.4 L812.8 921.8 L814.0 920.1 L815.2 918.5 L816.3 916.8 L817.5 915.2 L818.6 913.5 L819.8 911.9 L820.9 910.2 L822.0 908.6 L823.1 906.9 L824.3 905.3 L825.4 903.6 L826.5 901.9 L827.6 900.3 L828.7 898.6 L829.8 896.9 L830.9 895.3 L832.0 893.6 L833.1 891.9 L834.2 890.2 L835.3 888.5 L836.3 886.8 L837.4 885.1 L838.5 883.4 L839.5 881.7 L840.6 880.0 L841.6 878.3 L842.7 876.6 L843.7 874.9 L844.7 873.2 L845.8 871.5 L846.8 869.8 L847.8 868.1 L848.8 866.4 L849.8 864.7 L850.9 862.9 L851.9 861.2 L852.9 859.5 L853.9 857.8 L854.9 856.0 L855.8 854.3 L856.8 852.6 L857.8 850.8 L858.8 849.1 L859.8 847.4 L860.7 845.6 L861.7 843.9 L862.7 842.1 L863.6 840.4 L864.6 838.6 L865.6 836.9 L866.5 835.1 L867.5 833.4 L868.4 831.6 L869.3 829.9 L870.3 828.1 L871.2 826.4 L872.2 824.6 L873.1 822.8 L874.0 821.1 L874.9 819.3 L875.9 817.5 L876.8 815.8 L877.7 814.0 L878.6 812.2 L879.5 810.5 L880.4 808.7 L881.3 806.9 L882.2 805.1 L883.1 803.3 L884.0 801.6 L884.9 799.8 L885.8 798.0 L886.7 796.2 L887.6 794.4 L888.5 792.6 L889.4 790.9 L890.3 789.1 L891.2 787.3 L892.1 785.5 L892.9 783.7 L893.8 781.9 L894.7 780.1 L895.6 778.3 L896.5 776.5 L897.3 774.7 L898.2 772.9 L899.1 771.1 L899.9 769.3 L900.8 767.5 L901.7 765.7 L902.5 763.9 L903.4 762.1 L904.3 760.3 L905.1 758.5 L906.0 756.7 L906.9 754.9 L907.7 753.1 L908.6 751.3 L909.4 749.5 L910.3 747.7 L911.2 745.9 L912.0 744.0 L912.9 742.2 L913.7 740.4 L914.6 738.6 L915.4 736.8 L916.3 735.0 L917.1 733.2 L918.0 731.4 L918.9 729.5 L919.7 727.7 L920.6 725.9 L921.4 724.1 L922.3 722.3 L923.1 720.5 L924.0 718.7 L924.9 716.9 L925.7 715.1 L926.6 713.2 L927.4 711.4 L928.3 709.6 L929.2 707.8 L930.0 706.0 L930.9 704.2 L931.7 702.4 L932.6 700.6 L933.5 698.8 L934.3 697.0 L935.2 695.2 L936.1 693.4 L937.0 691.6 L937.8 689.8 L938.7 688.0 L939.6 686.2 L940.5 684.4 L941.3 682.6 L942.2 680.8 L943.1 679.0 L944.0 677.2 L944.9 675.4 L945.8 673.6 L946.7 671.8 L947.6 670.0 L948.5 668.2 L949.4 666.5 L950.3 664.7 L951.2 662.9 L952.1 661.1 L953.0 659.3 L953.9 657.6 L954.8 655.8 L955.7 654.0 L956.7 652.3 L957.6 650.5 L958.5 648.7 L959.4 647.0 L960.4 645.2 L961.3 643.4 L962.2 641.7 L963.2 639.9 L964.1 638.2 L965.1 636.4 L966.0 634.7 L967.0 633.0 L968.0 631.2 L968.9 629.5 L969.9 627.7 L970.9 626.0 L971.8 624.3 L972.8 622.5 L973.8 620.8 L974.8 619.1 L975.8 617.4 L976.7 615.6 L977.7 613.9 L978.7 612.2 L979.7 610.5 L980.7 608.8 L981.7 607.1 L982.8 605.3 L983.8 603.6 L984.8 601.9 L985.8 600.2 L986.8 598.5 L987.8 596.8 L988.9 595.1 L989.9 593.4 L990.9 591.7 L992.0 590.0 L993.0 588.3 L994.1 586.6 L995.1 584.9 L996.1 583.2 L997.2 581.5 L998.3 579.8 L999.3 578.1 L1000.4 576.4 L1001.4 574.7 L1002.5 573.0 L1003.6 571.3 L1004.6 569.6 L1005.7 567.9 L1006.8 566.2 L1007.9 564.5 L1009.0 562.8 L1010.0 561.2 L1011.1 559.5 L1012.2 557.8 L1013.3 556.1 L1014.4 554.4 L1015.5 552.7 L1016.6 551.0 L1017.7 549.3 L1018.8 547.7 L1020.0 546.0 L1021.1 544.3 L1022.2 542.6 L1023.3 541.0 L1024.5 539.3 L1025.6 537.6 L1026.8 536.0 L1027.9 534.3 L1029.1 532.7 L1030.2 531.0 L1031.4 529.4 L1032.6 527.8 L1033.8 526.1 L1035.0 524.5 L1036.1 522.9 L1037.3 521.3 L1038.6 519.7 L1039.8 518.0 L1041.0 516.5 L1042.2 514.9 L1043.4 513.3 L1044.7 511.7 L1045.9 510.1 L1047.2 508.6 L1048.4 507.0 L1049.7 505.5 L1051.0 503.9 L1052.3 502.4 L1053.6 500.9 L1054.9 499.4 L1056.2 497.9 L1057.5 496.4 L1058.8 494.9 L1060.2 493.4 L1061.5 492.0 L1062.9 490.5 L1064.3 489.1 L1065.6 487.6 L1067.0 486.2 L1068.4 484.8 L1069.8 483.4 L1071.2 482.0 L1072.7 480.6 L1074.1 479.3 L1075.5 477.9 L1077.0 476.6 L1078.5 475.2 L1079.9 473.9 L1081.4 472.6 L1082.9 471.3 L1084.5 470.0 L1086.0 468.8 L1087.5 467.5 L1089.1 466.3 L1090.6 465.1 L1092.2 463.9 L1093.8 462.7 L1095.4 461.5 L1097.0 460.3 L1098.6 459.2 L1100.2 458.1 L1101.9 456.9 L1103.5 455.8 L1105.2 454.8 L1106.9 453.7 L1108.6 452.6 L1110.3 451.6 L1112.1 450.6 L1113.8 449.6 L1115.6 448.6 L1117.3 447.7 L1119.1 446.7 L1120.9 445.8 L1122.7 444.9 L1124.5 444.0 L1126.3 443.2 L1128.2 442.3 L1130.0 441.5 L1131.9 440.7 L1133.7 439.9 L1135.6 439.2 L1137.5 438.5 L1139.4 437.8 L1141.3 437.1 L1143.2 436.4 L1145.1 435.8 L1147.1 435.2 L1149.0 434.7 L1150.9 434.1 L1152.9 433.6 L1154.8 433.1 L1156.8 432.7 L1158.8 432.2 L1160.7 431.8 L1162.7 431.5 L1164.7 431.1 L1166.7 430.8 L1168.6 430.6 L1170.6 430.3 L1172.6 430.1 L1174.6 429.9 L1176.6 429.7 L1178.6 429.6 L1180.6 429.5 L1182.6 429.4 L1184.5 429.4 L1186.5 429.4 L1188.5 429.4 L1190.5 429.4 L1192.4 429.5 L1194.4 429.6 L1196.4 429.7 L1198.4 429.8 L1200.3 430.0 L1202.3 430.2 L1204.2 430.4 L1206.2 430.7 L1208.1 430.9 L1210.1 431.2 L1212.0 431.5 L1214.0 431.9 L1215.9 432.2 L1217.9 432.6 L1219.8 433.0 L1221.7 433.5 L1223.7 433.9 L1225.6 434.4 L1227.5 434.8 L1229.5 435.3 L1231.4 435.9 L1233.3 436.4 L1235.2 436.9 L1237.1 437.5 L1239.0 438.1 L1240.9 438.7 L1242.8 439.3 L1244.7 439.9 L1246.6 440.6 L1248.5 441.2 L1250.4 441.9 L1252.3 442.6 L1254.2 443.3 L1256.1 444.0 L1258.0 444.7 L1259.8 445.4 L1261.7 446.2 L1263.6 446.9 L1265.4 447.7 L1267.3 448.4 L1269.2 449.2 L1271.0 450.0 L1272.9 450.8 L1274.7 451.6 L1276.6 452.4 L1278.4 453.2 L1280.3 454.0 L1282.1 454.8 L1283.9 455.7 L1285.8 456.5 L1287.6 457.3 L1289.4 458.2 L1291.2 459.0 L1293.1 459.9 L1294.9 460.7 L1296.7 461.6 L1298.5 462.4 L1300.3 463.3 L1302.1 464.2 L1303.9 465.0 L1305.7 465.9 L1307.5 466.8 L1309.3 467.7 L1311.1 468.6 L1312.9 469.5 L1314.7 470.4 L1316.5 471.3 L1318.2 472.2 L1320.0 473.1 L1321.8 474.0 L1323.6 474.9 L1325.3 475.9 L1327.1 476.8 L1328.9 477.7 L1330.6 478.6 L1332.4 479.6 L1334.2 480.5 L1335.9 481.5 L1337.7 482.4 L1339.4 483.4 L1341.2 484.3 L1343.0 485.3 L1344.7 486.2 L1346.5 487.2 L1348.2 488.1 L1349.9 489.1 L1351.7 490.1 L1353.4 491.0 L1355.2 492.0 L1356.9 493.0 L1358.7 494.0 L1360.4 494.9 L1362.1 495.9 L1363.9 496.9 L1365.6 497.9 L1367.3 498.9 L1369.1 499.9 L1370.8 500.9 L1372.5 501.9 L1374.2 502.8 L1376.0 503.8 L1377.7 504.8 L1379.4 505.8 L1381.2 506.8 L1382.9 507.8 L1384.6 508.9 L1386.3 509.9 L1388.0 510.9 L1389.8 511.9 L1391.5 512.9 L1393.2 513.9 L1394.9 514.9 L1396.6 515.9 L1398.4 516.9 L1400.1 517.9 L1401.8 519.0 L1403.5 520.0 L1405.2 521.0 L1407.0 522.0 L1408.7 523.0 L1410.4 524.0 L1412.1 525.0 L1413.8 526.1 L1415.5 527.1 L1417.3 528.1 L1419.0 529.1 L1420.7 530.1 L1422.4 531.2 L1424.1 532.2 L1425.8 533.2 L1427.6 534.2 L1429.3 535.2 L1431.0 536.2 L1432.7 537.3 L1434.4 538.3 L1436.2 539.3 L1437.9 540.3 L1439.6 541.3 L1441.3 542.3 L1443.1 543.4 L1444.8 544.4 L1446.5 545.4 L1448.2 546.4 L1450.0 547.4 L1451.7 548.4 L1453.4 549.4 L1455.1 550.4 L1456.9 551.4 L1458.6 552.4 L1460.3 553.5 L1462.1 554.5 L1463.8 555.5 L1465.5 556.5 L1467.2 557.5 L1469.0 558.5 L1470.7 559.5 L1472.4 560.6 L1474.1 561.6 L1475.8 562.6 L1477.5 563.7 L1479.2 564.7 L1481.0 565.7 L1482.7 566.8 L1484.4 567.8 L1486.1 568.9 L1487.8 569.9 L1489.5 570.9 L1491.2 572.0 L1492.9 573.0 L1494.6 574.1 L1496.3 575.1 L1498.0 576.1 L1499.7 577.2 L1501.4 578.2 L1503.1 579.3 L1504.8 580.3 L1506.5 581.3 L1508.2 582.4 L1509.9 583.4 L1511.6 584.4 L1513.3 585.5 L1515.0 586.5 L1516.7 587.5 L1518.5 588.5 L1520.2 589.6 L1521.9 590.6 L1523.6 591.6 L1525.3 592.6 L1527.0 593.6 L1528.7 594.6 L1530.4 595.7 L1532.2 596.7 L1533.9 597.7 L1535.6 598.7 L1537.3 599.7 L1539.0 600.7 L1540.8 601.7 L1542.5 602.7 L1544.2 603.7 L1545.9 604.7 L1547.7 605.6 L1549.4 606.6 L1551.1 607.6 L1552.9 608.6 L1554.6 609.6 L1556.3 610.5 L1558.1 611.5 L1559.8 612.5 L1561.6 613.4 L1563.3 614.4 L1565.1 615.3 L1566.8 616.3 L1568.6 617.2 L1570.3 618.2 L1572.1 619.1 L1573.9 620.1 L1575.6 621.0 L1577.4 622.0 L1579.2 622.9 L1580.9 623.8 L1582.7 624.8 L1584.5 625.7 L1586.2 626.6 L1588.0 627.5 L1589.8 628.5 L1591.6 629.4 L1593.3 630.3 L1595.1 631.2 L1596.9 632.1 L1598.7 633.0 L1600.5 633.9 L1602.3 634.8 L1604.0 635.7 L1605.8 636.6 L1607.6 637.5 L1609.4 638.4 L1611.2 639.3 L1613.0 640.2 L1614.8 641.1 L1616.6 641.9 L1618.4 642.8 L1620.2 643.7 L1622.0 644.6 L1623.8 645.4 L1625.6 646.3 L1627.4 647.2 L1629.2 648.1 L1631.0 648.9 L1632.8 649.8 L1634.6 650.6 L1636.4 651.5 L1638.3 652.4 L1640.1 653.2 L1641.9 654.1 L1643.7 654.9 L1645.5 655.8 L1647.3 656.6 L1649.1 657.4 L1651.0 658.3 L1652.8 659.1 L1654.6 660.0 L1656.4 660.8 L1658.3 661.6 L1660.1 662.5 L1661.9 663.3 L1663.7 664.1 L1665.5 664.9 L1667.4 665.8 L1669.2 666.6 L1671.0 667.4 L1672.9 668.2 L1674.7 669.0 L1676.5 669.8 L1678.3 670.7 L1680.2 671.5 L1682.0 672.3 L1683.8 673.1 L1685.7 673.9 L1687.5 674.7 L1689.3 675.5 L1691.2 676.3 L1693.0 677.1 L1694.9 677.9 L1696.7 678.7 L1698.5 679.5 L1700.4 680.3 L1702.2 681.0 L1704.0 681.8 L1705.9 682.6 L1707.7 683.4 L1709.6 684.2 L1711.4 685.0 L1713.3 685.7 L1715.1 686.5 L1716.9 687.3 L1718.8 688.1 L1720.6 688.8 L1722.5 689.6 L1724.3 690.4 L1726.2 691.1 L1728.0 691.9 L1729.9 692.7 L1731.7 693.4 L1733.6 694.2 L1735.4 694.9 L1737.3 695.7 L1739.1 696.4 L1741.0 697.2 L1742.8 697.9 L1744.7 698.7 L1746.5 699.4 L1748.4 700.2 L1750.3 700.9 L1752.1 701.7 L1754.0 702.4 L1755.8 703.1 L1757.7 703.9 L1759.6 704.6 L1761.4 705.3 L1763.3 706.1 L1765.1 706.8 L1767.0 707.5 L1768.9 708.2 L1770.7 709.0 L1772.6 709.7 L1774.5 710.4 L1776.3 711.1 L1778.2 711.8 L1780.0 712.5 L1781.9 713.3 L1783.8 714.0 L1785.7 714.7 L1787.5 715.4 L1789.4 716.1 L1791.3 716.8 L1793.1 717.5 L1795.0 718.2 L1796.9 718.9 L1798.7 719.6 L1800.6 720.3 L1802.5 721.0 L1804.4 721.7 L1806.2 722.3 L1808.1 723.0 L1810.0 723.7 L1811.9 724.4 L1813.8 725.1 L1815.6 725.8 L1817.5 726.4 L1819.4 727.1 L1821.3 727.8 L1823.1 728.5 L1825.0 729.1 L1826.9 729.8 L1828.8 730.5 L1830.7 731.1 L1832.6 731.8 L1834.4 732.5 L1836.3 733.1 L1838.2 733.8 L1840.1 734.4 L1842.0 735.1 L1843.9 735.8 L1845.8 736.4 L1847.6 737.1 L1849.5 737.7 L1851.4 738.4 L1853.3 739.0 L1855.2 739.6 L1857.1 740.3 L1859.0 740.9 L1860.9 741.6 L1862.8 742.2 L1864.7 742.8 L1866.6 743.5 L1868.4 744.1 L1870.3 744.7 L1872.2 745.4 L1874.1 746.0 L1876.0 746.6 L1877.9 747.2 L1879.8 747.9 L1881.7 748.5 L1883.6 749.1 L1885.5 749.7 L1887.4 750.3 L1889.3 750.9 L1891.2 751.6 L1893.1 752.2 L1895.0 752.8 L1896.9 753.4 L1898.8 754.0 L1900.7 754.6 L1902.6 755.2 L1904.5 755.8 L1906.4 756.4 L1908.3 757.0 L1910.3 757.6 L1912.2 758.2 L1914.1 758.8 L1916.0 759.4 L1917.9 759.9 L1919.8 760.5 L1921.7 761.1 L1923.6 761.7 L1925.5 762.3 L1927.4 762.9 L1929.3 763.4 L1931.3 764.0 L1933.2 764.6 L1935.1 765.2 L1937.0 765.7 L1938.9 766.3 L1940.8 766.9 L1942.7 767.4 L1944.6 768.0 L1946.6 768.6 L1948.5 769.1 L1950.4 769.7 L1952.3 770.3 L1954.2 770.8 L1956.2 771.4 L1958.1 771.9 L1960.0 772.5 L1961.9 773.0 L1963.8 773.6 L1965.7 774.1 L1967.7 774.7 L1969.6 775.2 L1971.5 775.7 L1973.4 776.3 L1975.4 776.8 L1977.3 777.4 L1979.2 777.9 L1981.1 778.4 L1983.1 779.0 L1985.0 779.5 L1986.9 780.0 L1988.8 780.6 L1990.8 781.1 L1992.7 781.6 L1994.6 782.1 L1996.5 782.6 L1998.5 783.2 L2000.4 783.7 L2002.3 784.2 L2004.3 784.7 L2006.2 785.2 L2008.1 785.7 L2010.0 786.2 L2012.0 786.8 L2013.9 787.3 L2015.8 787.8 L2017.8 788.3 L2019.7 788.8 L2021.6 789.3 L2023.6 789.8 L2025.5 790.3 L2027.4 790.8 L2029.4 791.3 L2031.3 791.7 L2033.3 792.2 L2035.2 792.7 L2037.1 793.2 L2039.1 793.7 L2041.0 794.2 L2042.9 794.7 L2044.9 795.1 L2046.8 795.6 L2048.8 796.1 L2050.7 796.6 L2052.6 797.1 L2054.6 797.5 L2056.5 798.0 L2058.5 798.5 L2060.4 798.9 L2062.4 799.4 L2064.3 799.9 L2066.2 800.3 L2068.2 800.8 L2070.1 801.2 L2072.1 801.7 L2074.0 802.2 L2076.0 802.6 L2077.9 803.1 L2079.9 803.5 L2081.8 804.0 L2083.8 804.4 L2085.7 804.9 L2087.6 805.3 L2089.6 805.8 L2091.5 806.2 L2093.5 806.7 L2095.4 807.1 L2097.4 807.5 L2099.3 808.0 L2101.3 808.4 L2103.2 808.8 L2105.2 809.3 L2107.1 809.7 L2109.1 810.1 L2111.1 810.6 L2113.0 811.0 L2115.0 811.4 L2116.9 811.8 L2118.9 812.2 L2120.8 812.7 L2122.8 813.1 L2124.7 813.5 L2126.7 813.9 L2128.6 814.3 L2130.6 814.7 L2132.6 815.2 L2134.5 815.6 L2136.5 816.0 L2138.4 816.4 L2140.4 816.8 L2142.3 817.2 L2144.3 817.6 L2146.3 818.0 L2148.2 818.4 L2150.2 818.8 L2152.1 819.2 L2154.1 819.6 L2156.1 820.0 L2158.0 820.4 L2160.0 820.7 L2162.0 821.1 L2163.9 821.5 L2165.9 821.9 L2167.8 822.3 L2169.8 822.7 L2171.8 823.1 L2173.7 823.4 L2175.7 823.8 L2177.7 824.2 L2179.6 824.6 L2181.6 824.9 L2183.6 825.3 L2185.5 825.7 L2187.5 826.0 L2189.5 826.4 L2191.4 826.8 L2193.4 827.1 L2195.4 827.5 L2197.3 827.9 L2199.3 828.2 L2201.3 828.6 L2203.2 828.9 L2205.2 829.3 L2207.2 829.6 L2209.1 830.0 L2211.1 830.3 L2213.1 830.7 L2215.0 831.0 L2217.0 831.4 L2219.0 831.7 L2221.0 832.1 L2222.9 832.4 L2224.9 832.8 L2226.9 833.1 L2228.9 833.4 L2230.8 833.8 L2232.8 834.1 L2234.8 834.4 L2236.7 834.8 L2238.7 835.1 L2240.7 835.4 L2242.7 835.8 L2244.6 836.1 L2246.6 836.4 L2248.6 836.7 L2250.6 837.0 L2252.5 837.4 L2254.5 837.7 L2256.5 838.0" stroke="#008000"/>
</g>
<g class="sans" font-size="77" fill="#000" letter-spacing="1">
<text x="301" y="1464.0" text-anchor="end">0</text><text x="301" y="1236.3" text-anchor="end">500</text><text x="301" y="1008.7" text-anchor="end">1000</text><text x="301" y="781.0" text-anchor="end">1500</text><text x="301" y="553.3" text-anchor="end">2000</text><text x="301" y="325.7" text-anchor="end">2500</text><text x="301" y="98.0" text-anchor="end">3000</text>
<text x="486.0" y="1566" text-anchor="middle">-<tspan dx="-4">40</tspan></text><text x="738.9" y="1566" text-anchor="middle">-<tspan dx="-4">20</tspan></text><text x="991.8" y="1566" text-anchor="middle">0</text><text x="1244.8" y="1566" text-anchor="middle">20</text><text x="1497.7" y="1566" text-anchor="middle">40</text><text x="1750.6" y="1566" text-anchor="middle">60</text><text x="2003.6" y="1566" text-anchor="middle">80</text><text x="2256.5" y="1566" text-anchor="middle">100</text>
</g>
<g class="sans" font-size="75.5" fill="#000">
<text transform="translate(96.1,1259) rotate(-90)">In<tspan dx="3">-</tspan><tspan x="93" letter-spacing="1.67">Cylinder</tspan> <tspan x="428.4" letter-spacing="2.1">Temperature</tspan> <tspan x="930.3" letter-spacing="-0.6">[K]</tspan></text>
<text x="956" y="1668.7"><tspan letter-spacing="1.15">Crank Angle</tspan> <tspan x="1436">[</tspan><tspan x="1459.5" y="1637.5" font-size="57">O</tspan><tspan x="1507" y="1668.7">CA]</tspan></text>
</g>
<text class="serif" x="1128" y="1783.1" font-size="86"><tspan font-weight="normal">(</tspan>d<tspan font-weight="normal">)</tspan></text>
</svg>
</body></html>
